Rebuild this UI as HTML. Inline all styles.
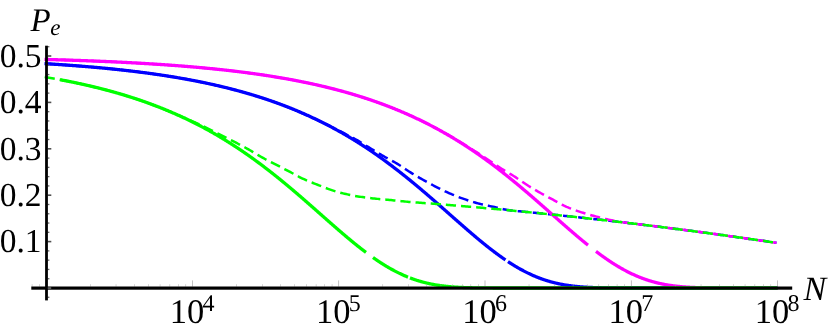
<!DOCTYPE html>
<html><head><meta charset="utf-8"><style>
html,body{margin:0;padding:0;background:#fff;}
svg{display:block;will-change:transform;text-rendering:geometricPrecision;font-family:"Liberation Serif",serif;}
</style></head><body>
<svg width="830" height="332" viewBox="0 0 830 332">
<rect width="830" height="332" fill="#fff"/>
<g stroke-linecap="butt" stroke-linejoin="round">
<path d="M44.50,63.62 L45.00,63.65 L45.50,63.68 L46.00,63.71 L46.50,63.74 L47.00,63.77 L47.50,63.80 L48.00,63.83 L48.50,63.86 L49.00,63.89 L49.50,63.92 L50.00,63.95 L50.50,63.99 L51.00,64.02 L51.50,64.05 L52.00,64.08 L52.50,64.11 L53.00,64.14 L53.50,64.18 L54.00,64.21 L54.50,64.24 L55.00,64.27 L55.50,64.31 L56.00,64.34 L56.50,64.37 L57.00,64.41 L57.50,64.44 L58.00,64.47 L58.50,64.50 L59.00,64.54 L59.50,64.57 L60.00,64.61 L60.50,64.64 L61.00,64.67 L61.50,64.71 L62.00,64.74 L62.50,64.78 L63.00,64.81 L63.50,64.85 L64.00,64.88 L64.50,64.92 L65.00,64.95 L65.50,64.99 L66.00,65.02 L66.50,65.06 L67.00,65.09 L67.50,65.13 L68.00,65.16 L68.50,65.20 L69.00,65.24 L69.50,65.27 L70.00,65.31 L70.50,65.35 L71.00,65.38 L71.50,65.42 L72.00,65.46 L72.50,65.50 L73.00,65.53 L73.50,65.57 L74.00,65.61 L74.50,65.65 L75.00,65.68 L75.50,65.72 L76.00,65.76 L76.50,65.80 L77.00,65.84 L77.50,65.88 L78.00,65.91 L78.50,65.95 L79.00,65.99 L79.50,66.03 L80.00,66.07 L80.50,66.11 L81.00,66.15 L81.50,66.19 L82.00,66.23 L82.50,66.27 L83.00,66.31 L83.50,66.35 L84.00,66.39 L84.50,66.43 L85.00,66.48 L85.50,66.52 L86.00,66.56 L86.50,66.60 L87.00,66.64 L87.50,66.68 L88.00,66.73 L88.50,66.77 L89.00,66.81 L89.50,66.85 L90.00,66.90 L90.50,66.94 L91.00,66.98 L91.50,67.03 L92.00,67.07 L92.50,67.11 L93.00,67.16 L93.50,67.20 L94.00,67.24 L94.50,67.29 L95.00,67.33 L95.50,67.38 L96.00,67.42 L96.50,67.47 L97.00,67.51 L97.50,67.56 L98.00,67.60 L98.50,67.65 L99.00,67.69 L99.50,67.74 L100.00,67.79 L100.50,67.83 L101.00,67.88 L101.50,67.93 L102.00,67.97 L102.50,68.02 L103.00,68.07 L103.50,68.12 L104.00,68.16 L104.50,68.21 L105.00,68.26 L105.50,68.31 L106.00,68.36 L106.50,68.41 L107.00,68.45 L107.50,68.50 L108.00,68.55 L108.50,68.60 L109.00,68.65 L109.50,68.70 L110.00,68.75 L110.50,68.80 L111.00,68.85 L111.50,68.90 L112.00,68.95 L112.50,69.00 L113.00,69.06 L113.50,69.11 L114.00,69.16 L114.50,69.21 L115.00,69.26 L115.50,69.31 L116.00,69.37 L116.50,69.42 L117.00,69.47 L117.50,69.53 L118.00,69.58 L118.50,69.63 L119.00,69.69 L119.50,69.74 L120.00,69.79 L120.50,69.85 L121.00,69.90 L121.50,69.96 L122.00,70.01 L122.50,70.07 L123.00,70.12 L123.50,70.18 L124.00,70.23 L124.50,70.29 L125.00,70.35 L125.50,70.40 L126.00,70.46 L126.50,70.52 L127.00,70.57 L127.50,70.63 L128.00,70.69 L128.50,70.75 L129.00,70.80 L129.50,70.86 L130.00,70.92 L130.50,70.98 L131.00,71.04 L131.50,71.10 L132.00,71.16 L132.50,71.22 L133.00,71.28 L133.50,71.34 L134.00,71.40 L134.50,71.46 L135.00,71.52 L135.50,71.58 L136.00,71.64 L136.50,71.70 L137.00,71.76 L137.50,71.83 L138.00,71.89 L138.50,71.95 L139.00,72.01 L139.50,72.08 L140.00,72.14 L140.50,72.20 L141.00,72.27 L141.50,72.33 L142.00,72.40 L142.50,72.46 L143.00,72.52 L143.50,72.59 L144.00,72.65 L144.50,72.72 L145.00,72.79 L145.50,72.85 L146.00,72.92 L146.50,72.99 L147.00,73.05 L147.50,73.12 L148.00,73.19 L148.50,73.25 L149.00,73.32 L149.50,73.39 L150.00,73.46 L150.50,73.53 L151.00,73.60 L151.50,73.66 L152.00,73.73 L152.50,73.80 L153.00,73.87 L153.50,73.94 L154.00,74.01 L154.50,74.09 L155.00,74.16 L155.50,74.23 L156.00,74.30 L156.50,74.37 L157.00,74.44 L157.50,74.52 L158.00,74.59 L158.50,74.66 L159.00,74.74 L159.50,74.81 L160.00,74.88 L160.50,74.96 L161.00,75.03 L161.50,75.11 L162.00,75.18 L162.50,75.26 L163.00,75.33 L163.50,75.41 L164.00,75.49 L164.50,75.56 L165.00,75.64 L165.50,75.72 L166.00,75.79 L166.50,75.87 L167.00,75.95 L167.50,76.03 L168.00,76.11 L168.50,76.19 L169.00,76.26 L169.50,76.34 L170.00,76.42 L170.50,76.50 L171.00,76.58 L171.50,76.67 L172.00,76.75 L172.50,76.83 L173.00,76.91 L173.50,76.99 L174.00,77.07 L174.50,77.16 L175.00,77.24 L175.50,77.32 L176.00,77.41 L176.50,77.49 L177.00,77.58 L177.50,77.66 L178.00,77.75 L178.50,77.83 L179.00,77.92 L179.50,78.00 L180.00,78.09 L180.50,78.18 L181.00,78.26 L181.50,78.35 L182.00,78.44 L182.50,78.53 L183.00,78.61 L183.50,78.70 L184.00,78.79 L184.50,78.88 L185.00,78.97 L185.50,79.06 L186.00,79.15 L186.50,79.24 L187.00,79.33 L187.50,79.43 L188.00,79.52 L188.50,79.61 L189.00,79.70 L189.50,79.80 L190.00,79.89 L190.50,79.98 L191.00,80.08 L191.50,80.17 L192.00,80.27 L192.50,80.36 L193.00,80.46 L193.50,80.55 L194.00,80.65 L194.50,80.74 L195.00,80.84 L195.50,80.94 L196.00,81.04 L196.50,81.13 L197.00,81.23 L197.50,81.33 L198.00,81.43 L198.50,81.53 L199.00,81.63 L199.50,81.73 L200.00,81.83 L200.50,81.93 L201.00,82.04 L201.50,82.14 L202.00,82.24 L202.50,82.34 L203.00,82.45 L203.50,82.55 L204.00,82.65 L204.50,82.76 L205.00,82.86 L205.50,82.97 L206.00,83.07 L206.50,83.18 L207.00,83.29 L207.50,83.39 L208.00,83.50 L208.50,83.61 L209.00,83.72 L209.50,83.82 L210.00,83.93 L210.50,84.04 L211.00,84.15 L211.50,84.26 L212.00,84.37 L212.50,84.48 L213.00,84.60 L213.50,84.71 L214.00,84.82 L214.50,84.93 L215.00,85.05 L215.50,85.16 L216.00,85.27 L216.50,85.39 L217.00,85.50 L217.50,85.62 L218.00,85.73 L218.50,85.85 L219.00,85.97 L219.50,86.08 L220.00,86.20 L220.50,86.32 L221.00,86.44 L221.50,86.56 L222.00,86.68 L222.50,86.80 L223.00,86.92 L223.50,87.04 L224.00,87.16 L224.50,87.28 L225.00,87.40 L225.50,87.52 L226.00,87.65 L226.50,87.77 L227.00,87.90 L227.50,88.02 L228.00,88.14 L228.50,88.27 L229.00,88.40 L229.50,88.52 L230.00,88.65 L230.50,88.78 L231.00,88.90 L231.50,89.03 L232.00,89.16 L232.50,89.29 L233.00,89.42 L233.50,89.55 L234.00,89.68 L234.50,89.81 L235.00,89.95 L235.50,90.08 L236.00,90.21 L236.50,90.34 L237.00,90.48 L237.50,90.61 L238.00,90.75 L238.50,90.88 L239.00,91.02 L239.50,91.16 L240.00,91.29 L240.50,91.43 L241.00,91.57 L241.50,91.71 L242.00,91.85 L242.50,91.98 L243.00,92.13 L243.50,92.27 L244.00,92.41 L244.50,92.55 L245.00,92.69 L245.50,92.83 L246.00,92.98 L246.50,93.12 L247.00,93.27 L247.50,93.41 L248.00,93.56 L248.50,93.70 L249.00,93.85 L249.50,94.00 L250.00,94.14 L250.50,94.29 L251.00,94.44 L251.50,94.59 L252.00,94.74 L252.50,94.89 L253.00,95.04 L253.50,95.19 L254.00,95.35 L254.50,95.50 L255.00,95.65 L255.50,95.81 L256.00,95.96 L256.50,96.11 L257.00,96.27 L257.50,96.43 L258.00,96.58 L258.50,96.74 L259.00,96.90 L259.50,97.06 L260.00,97.22 L260.50,97.38 L261.00,97.54 L261.50,97.70 L262.00,97.86 L262.50,98.02 L263.00,98.18 L263.50,98.35 L264.00,98.51 L264.50,98.68 L265.00,98.84 L265.50,99.01 L266.00,99.17 L266.50,99.34 L267.00,99.51 L267.50,99.68 L268.00,99.85 L268.50,100.02 L269.00,100.19 L269.50,100.36 L270.00,100.53 L270.50,100.70 L271.00,100.87 L271.50,101.05 L272.00,101.22 L272.50,101.40 L273.00,101.57 L273.50,101.75 L274.00,101.92 L274.50,102.10 L275.00,102.28 L275.50,102.46 L276.00,102.64 L276.50,102.82 L277.00,103.00 L277.50,103.18 L278.00,103.36 L278.50,103.54 L279.00,103.73 L279.50,103.91 L280.00,104.10 L280.50,104.28 L281.00,104.47 L281.50,104.65 L282.00,104.84 L282.50,105.03 L283.00,105.22 L283.50,105.41 L284.00,105.60 L284.50,105.79 L285.00,105.98 L285.50,106.17 L286.00,106.37 L286.50,106.56 L287.00,106.75 L287.50,106.95 L288.00,107.14 L288.50,107.34 L289.00,107.54 L289.50,107.74 L290.00,107.93 L290.50,108.13 L291.00,108.33 L291.50,108.53 L292.00,108.74 L292.50,108.94 L293.00,109.14 L293.50,109.35 L294.00,109.55 L294.50,109.75 L295.00,109.96 L295.50,110.17 L296.00,110.37 L296.50,110.58 L297.00,110.79 L297.50,111.00 L298.00,111.21 L298.50,111.42 L299.00,111.63 L299.50,111.85 L300.00,112.06 L300.50,112.27 L301.00,112.49 L301.50,112.71 L302.00,112.92 L302.50,113.14 L303.00,113.36 L303.50,113.58 L304.00,113.80 L304.50,114.02 L305.00,114.24 L305.50,114.46 L306.00,114.68 L306.50,114.90 L307.00,115.13 L307.50,115.35 L308.00,115.58 L308.50,115.81 L309.00,116.03 L309.50,116.26 L310.00,116.49 L310.50,116.72 L311.00,116.95 L311.50,117.18 L312.00,117.42 L312.50,117.65 L313.00,117.88 L313.50,118.12 L314.00,118.35 L314.50,118.59 L315.00,118.83 L315.50,119.06 L316.00,119.30 L316.50,119.54 L317.00,119.78 L317.50,120.02 L318.00,120.27 L318.50,120.51 L319.00,120.75 L319.50,121.00 L320.00,121.24 L320.50,121.49 L321.00,121.74 L321.50,121.98 L322.00,122.23 L322.50,122.48 L323.00,122.73 L323.50,122.99 L324.00,123.24 L324.50,123.49 L325.00,123.74 L325.50,124.00 L326.00,124.26 L326.50,124.51 L327.00,124.77 L327.50,125.03 L328.00,125.29 L328.50,125.55 L329.00,125.81 L329.50,126.07 L330.00,126.33 L330.50,126.60 L331.00,126.86 L331.50,127.13 L332.00,127.39 L332.50,127.66 L333.00,127.93 L333.50,128.20 L334.00,128.47 L334.50,128.74 L335.00,129.01 L335.50,129.28 L336.00,129.55 L336.50,129.83 L337.00,130.10 L337.50,130.38 L338.00,130.66 L338.50,130.93 L339.00,131.21 L339.50,131.49 L340.00,131.77 L340.50,132.05 L341.00,132.34 L341.50,132.62 L342.00,132.90 L342.50,133.19 L343.00,133.47 L343.50,133.76 L344.00,134.05 L344.50,134.34 L345.00,134.63 L345.50,134.92 L346.00,135.21 L346.50,135.50 L347.00,135.80 L347.50,136.09 L348.00,136.39 L348.50,136.68 L349.00,136.98 L349.50,137.28 L350.00,137.58 L350.50,137.88 L351.00,138.18 L351.50,138.48 L352.00,138.78 L352.50,139.08 L353.00,139.39 L353.50,139.69 L354.00,140.00 L354.50,140.31 L355.00,140.62 L355.50,140.93 L356.00,141.24 L356.50,141.55 L357.00,141.86 L357.50,142.17 L358.00,142.49 L358.50,142.80 L359.00,143.12 L359.50,143.43 L360.00,143.75 L360.50,144.07 L361.00,144.39 L361.50,144.71 L362.00,145.03 L362.50,145.36 L363.00,145.68 L363.50,146.00 L364.00,146.33 L364.50,146.66 L365.00,146.98 L365.50,147.31 L366.00,147.64 L366.50,147.97 L367.00,148.30 L367.50,148.63 L368.00,148.97 L368.50,149.30 L369.00,149.64 L369.50,149.97 L370.00,150.31 L370.50,150.65 L371.00,150.98 L371.50,151.32 L372.00,151.66 L372.50,152.01 L373.00,152.35 L373.50,152.69 L374.00,153.04 L374.50,153.38 L375.00,153.73 L375.50,154.07 L376.00,154.42 L376.50,154.77 L377.00,155.12 L377.50,155.47 L378.00,155.83 L378.50,156.18 L379.00,156.53 L379.50,156.89 L380.00,157.24 L380.50,157.60 L381.00,157.96 L381.50,158.31 L382.00,158.67 L382.50,159.03 L383.00,159.40 L383.50,159.76 L384.00,160.12 L384.50,160.49 L385.00,160.85 L385.50,161.22 L386.00,161.58 L386.50,161.95 L387.00,162.32 L387.50,162.69 L388.00,163.06 L388.50,163.43 L389.00,163.80 L389.50,164.18 L390.00,164.55 L390.50,164.92 L391.00,165.30 L391.50,165.68 L392.00,166.05 L392.50,166.43 L393.00,166.81 L393.50,167.19 L394.00,167.57 L394.50,167.96 L395.00,168.34 L395.50,168.72 L396.00,169.11 L396.50,169.49 L397.00,169.88 L397.50,170.27 L398.00,170.65 L398.50,171.04 L399.00,171.43 L399.50,171.82 L400.00,172.22 L400.50,172.61 L401.00,173.00 L401.50,173.40 L402.00,173.79 L402.50,174.19 L403.00,174.58 L403.50,174.98 L404.00,175.38 L404.50,175.78 L405.00,176.18 L405.50,176.58 L406.00,176.98 L406.50,177.38 L407.00,177.78 L407.50,178.19 L408.00,178.59 L408.50,179.00 L409.00,179.40 L409.50,179.81 L410.00,180.22 L410.50,180.62 L411.00,181.03 L411.50,181.44 L412.00,181.85 L412.50,182.26 L413.00,182.68 L413.50,183.09 L414.00,183.50 L414.50,183.92 L415.00,184.33 L415.50,184.75 L416.00,185.16 L416.50,185.58 L417.00,186.00 L417.50,186.41 L418.00,186.83 L418.50,187.25 L419.00,187.67 L419.50,188.09 L420.00,188.51 L420.50,188.94 L421.00,189.36 L421.50,189.78 L422.00,190.20 L422.50,190.63 L423.00,191.05 L423.50,191.48 L424.00,191.91 L424.50,192.33 L425.00,192.76 L425.50,193.19 L426.00,193.61 L426.50,194.04 L427.00,194.47 L427.50,194.90 L428.00,195.33 L428.50,195.76 L429.00,196.19 L429.50,196.63 L430.00,197.06 L430.50,197.49 L431.00,197.92 L431.50,198.36 L432.00,198.79 L432.50,199.23 L433.00,199.66 L433.50,200.10 L434.00,200.53 L434.50,200.97 L435.00,201.40 L435.50,201.84 L436.00,202.28 L436.50,202.71 L437.00,203.15 L437.50,203.59 L438.00,204.03 L438.50,204.47 L439.00,204.91 L439.50,205.34 L440.00,205.78 L440.50,206.22 L441.00,206.66 L441.50,207.10 L442.00,207.54 L442.50,207.98 L443.00,208.42 L443.50,208.87 L444.00,209.31 L444.50,209.75 L445.00,210.19 L445.50,210.63 L446.00,211.07 L446.50,211.51 L447.00,211.95 L447.50,212.40 L448.00,212.84 L448.50,213.28 L449.00,213.72 L449.50,214.16 L450.00,214.61 L450.50,215.05 L451.00,215.49 L451.50,215.93 L452.00,216.37 L452.50,216.81 L453.00,217.26 L453.50,217.70 L454.00,218.14 L454.50,218.58 L455.00,219.02 L455.50,219.46 L456.00,219.90 L456.50,220.34 L457.00,220.79 L457.50,221.23 L458.00,221.67 L458.50,222.11 L459.00,222.55 L459.50,222.98 L460.00,223.42 L460.50,223.86 L461.00,224.30 L461.50,224.74 L462.00,225.18 L462.50,225.61 L463.00,226.05 L463.50,226.49 L464.00,226.92 L464.50,227.36 L465.00,227.79 L465.50,228.23 L466.00,228.66 L466.50,229.10 L467.00,229.53 L467.50,229.96 L468.00,230.40 L468.50,230.83 L469.00,231.26 L469.50,231.69 L470.00,232.12 L470.50,232.55 L471.00,232.98 L471.50,233.40 L472.00,233.83 L472.50,234.26 L473.00,234.68 L473.50,235.11 L474.00,235.53 L474.50,235.96 L475.00,236.38 L475.50,236.80 L476.00,237.22 L476.50,237.64 L477.00,238.06 L477.50,238.48 L478.00,238.90 L478.50,239.32 L479.00,239.73 L479.50,240.15 L480.00,240.56 L480.50,240.97 L481.00,241.38 L481.50,241.80 L482.00,242.21 L482.50,242.61 L483.00,243.02 L483.50,243.43 L484.00,243.83 L484.50,244.24 L485.00,244.64 L485.50,245.04 L486.00,245.44 L486.50,245.84 L487.00,246.24 L487.50,246.64 L488.00,247.03 L488.50,247.43 L489.00,247.82 L489.50,248.21 L490.00,248.60 L490.50,248.99 L491.00,249.38 L491.50,249.77 L492.00,250.15 L492.50,250.54 L493.00,250.92 L493.50,251.30 L494.00,251.68 L494.50,252.05 L495.00,252.43 L495.50,252.81 L496.00,253.18 L496.50,253.55 L497.00,253.92 L497.50,254.29 L498.00,254.65 L498.50,255.02 L499.00,255.38 L499.50,255.74 L500.00,256.10 L500.50,256.46 L501.00,256.82 L501.50,257.17 L502.00,257.53 L502.50,257.88 L503.00,258.23 L503.50,258.58 L504.00,258.92 L504.50,259.27 L505.00,259.61 L505.50,259.95" fill="none" stroke="#0000ff" stroke-width="3.3"/>
<path d="M508.00,261.62 L508.50,261.95 L509.00,262.28 L509.50,262.60 L510.00,262.93 L510.50,263.25 L511.00,263.57 L511.50,263.88 L512.00,264.20 L512.50,264.51 L513.00,264.82 L513.50,265.13 L514.00,265.44 L514.50,265.74 L515.00,266.04 L515.50,266.34 L516.00,266.64 L516.50,266.94 L517.00,267.23 L517.50,267.52 L518.00,267.81 L518.50,268.10 L519.00,268.38 L519.50,268.67 L520.00,268.95 L520.50,269.23 L521.00,269.50 L521.50,269.78 L522.00,270.05 L522.50,270.32 L523.00,270.58 L523.50,270.85 L524.00,271.11 L524.50,271.37 L525.00,271.63 L525.50,271.89 L526.00,272.14 L526.50,272.39 L527.00,272.64 L527.50,272.89 L528.00,273.13 L528.50,273.37 L529.00,273.61 L529.50,273.85 L530.00,274.08 L530.50,274.32 L531.00,274.55 L531.50,274.77 L532.00,275.00 L532.50,275.22 L533.00,275.44 L533.50,275.66 L534.00,275.88 L534.50,276.09 L535.00,276.30 L535.50,276.51 L536.00,276.72 L536.50,276.92 L537.00,277.13 L537.50,277.33 L538.00,277.52 L538.50,277.72 L539.00,277.91 L539.50,278.10 L540.00,278.29 L540.50,278.47 L541.00,278.66 L541.50,278.84 L542.00,279.02 L542.50,279.20 L543.00,279.37 L543.50,279.54 L544.00,279.71 L544.50,279.88 L545.00,280.04 L545.50,280.21 L546.00,280.37 L546.50,280.53 L547.00,280.68 L547.50,280.84 L548.00,280.99 L548.50,281.14 L549.00,281.29 L549.50,281.43 L550.00,281.58 L550.50,281.72 L551.00,281.86 L551.50,281.99 L552.00,282.13 L552.50,282.26 L553.00,282.39 L553.50,282.52 L554.00,282.64 L554.50,282.77 L555.00,282.89 L555.50,283.01 L556.00,283.13 L556.50,283.25 L557.00,283.36 L557.50,283.47 L558.00,283.58 L558.50,283.69 L559.00,283.80 L559.50,283.90 L560.00,284.00 L560.50,284.11 L561.00,284.20 L561.50,284.30 L562.00,284.40 L562.50,284.49 L563.00,284.58 L563.50,284.67 L564.00,284.76 L564.50,284.85 L565.00,284.93 L565.50,285.01 L566.00,285.10 L566.50,285.17 L567.00,285.25 L567.50,285.33 L568.00,285.40 L568.50,285.48 L569.00,285.55 L569.50,285.62 L570.00,285.69 L570.50,285.75 L571.00,285.82 L571.50,285.88 L572.00,285.95 L572.50,286.01 L573.00,286.07 L573.50,286.13 L574.00,286.18 L574.50,286.24 L575.00,286.29 L575.50,286.35 L576.00,286.40 L576.50,286.45 L577.00,286.50 L577.50,286.55 L578.00,286.59 L578.50,286.64 L579.00,286.68 L579.50,286.73 L580.00,286.77 L580.50,286.81 L581.00,286.85 L581.50,286.89 L582.00,286.93 L582.50,286.96 L583.00,287.00 L583.50,287.04 L584.00,287.07 L584.50,287.10 L585.00,287.13 L585.50,287.17 L586.00,287.20 L586.50,287.22 L587.00,287.25 L587.50,287.28 L588.00,287.31 L588.50,287.33 L589.00,287.36 L589.50,287.38 L590.00,287.41 L590.50,287.43 L591.00,287.45 L591.50,287.47 L592.00,287.49 L592.50,287.51 L593.00,287.53 L593.50,287.55 L594.00,287.57 L594.50,287.59 L595.00,287.60 L595.50,287.62 L596.00,287.64 L596.50,287.65 L597.00,287.67 L597.50,287.68 L598.00,287.69 L598.50,287.71 L599.00,287.72 L599.50,287.73 L600.00,287.74 L600.50,287.76 L601.00,287.77 L601.50,287.78 L602.00,287.79 L602.50,287.80 L603.00,287.81 L603.50,287.82 L604.00,287.82 L604.50,287.83 L605.00,287.84 L605.50,287.85 L606.00,287.86 L606.50,287.86 L607.00,287.87 L607.50,287.88 L608.00,287.88 L608.50,287.89 L609.00,287.89 L609.50,287.90 L610.00,287.90 L610.50,287.91 L611.00,287.91 L611.50,287.92 L612.00,287.92 L612.50,287.93 L613.00,287.93 L613.50,287.93 L614.00,287.94 L614.50,287.94 L615.00,287.94 L615.50,287.95 L616.00,287.95 L616.50,287.95 L617.00,287.96 L617.50,287.96 L618.00,287.96 L618.50,287.96 L619.00,287.97 L619.50,287.97 L620.00,287.97 L620.50,287.97 L621.00,287.97 L621.50,287.97 L622.00,287.98 L622.50,287.98 L623.00,287.98 L623.50,287.98 L624.00,287.98 L624.50,287.98 L625.00,287.98 L625.50,287.98 L626.00,287.99 L626.50,287.99 L627.00,287.99 L627.50,287.99 L628.00,287.99 L628.50,287.99 L629.00,287.99 L629.50,287.99 L630.00,287.99 L630.50,287.99 L631.00,287.99 L631.50,287.99 L632.00,287.99 L632.50,287.99 L633.00,287.99 L633.50,288.00 L634.00,288.00 L634.50,288.00 L635.00,288.00 L635.50,288.00 L636.00,288.00 L636.50,288.00 L637.00,288.00 L637.50,288.00 L638.00,288.00 L638.50,288.00 L639.00,288.00 L639.50,288.00 L640.00,288.00 L640.50,288.00 L641.00,288.00 L641.50,288.00 L642.00,288.00 L642.50,288.00 L643.00,288.00 L643.50,288.00 L644.00,288.00 L644.50,288.00 L645.00,288.00 L645.50,288.00 L646.00,288.00 L646.50,288.00 L647.00,288.00 L647.50,288.00 L648.00,288.00 L648.50,288.00 L649.00,288.00 L649.50,288.00 L650.00,288.00 L650.50,288.00 L651.00,288.00 L651.50,288.00 L652.00,288.00 L652.50,288.00 L653.00,288.00 L653.50,288.00 L654.00,288.00 L654.50,288.00 L655.00,288.00 L655.50,288.00 L656.00,288.00 L656.50,288.00 L657.00,288.00 L657.50,288.00 L658.00,288.00 L658.50,288.00 L659.00,288.00 L659.50,288.00 L660.00,288.00 L660.50,288.00 L661.00,288.00 L661.50,288.00 L662.00,288.00 L662.50,288.00 L663.00,288.00 L663.50,288.00 L664.00,288.00 L664.50,288.00 L665.00,288.00 L665.50,288.00 L666.00,288.00 L666.50,288.00 L667.00,288.00 L667.50,288.00 L668.00,288.00 L668.50,288.00 L669.00,288.00 L669.50,288.00 L670.00,288.00 L670.50,288.00 L671.00,288.00 L671.50,288.00 L672.00,288.00 L672.50,288.00 L673.00,288.00 L673.50,288.00 L674.00,288.00 L674.50,288.00 L675.00,288.00 L675.50,288.00 L676.00,288.00 L676.50,288.00 L677.00,288.00 L677.50,288.00 L678.00,288.00 L678.50,288.00 L679.00,288.00 L679.50,288.00 L680.00,288.00 L680.50,288.00 L681.00,288.00 L681.50,288.00 L682.00,288.00 L682.50,288.00 L683.00,288.00 L683.50,288.00 L684.00,288.00 L684.50,288.00 L685.00,288.00 L685.50,288.00 L686.00,288.00 L686.50,288.00 L687.00,288.00 L687.50,288.00 L688.00,288.00 L688.50,288.00 L689.00,288.00 L689.50,288.00 L690.00,288.00 L690.50,288.00 L691.00,288.00 L691.50,288.00 L692.00,288.00 L692.50,288.00 L693.00,288.00 L693.50,288.00 L694.00,288.00 L694.50,288.00 L695.00,288.00 L695.50,288.00 L696.00,288.00 L696.50,288.00 L697.00,288.00 L697.50,288.00 L698.00,288.00 L698.50,288.00 L699.00,288.00 L699.50,288.00 L700.00,288.00 L700.50,288.00 L701.00,288.00 L701.50,288.00 L702.00,288.00 L702.50,288.00 L703.00,288.00 L703.50,288.00 L704.00,288.00 L704.50,288.00 L705.00,288.00 L705.50,288.00 L706.00,288.00 L706.50,288.00 L707.00,288.00 L707.50,288.00 L708.00,288.00 L708.50,288.00 L709.00,288.00 L709.50,288.00 L710.00,288.00 L710.50,288.00 L711.00,288.00 L711.50,288.00 L712.00,288.00 L712.50,288.00 L713.00,288.00 L713.50,288.00 L714.00,288.00 L714.50,288.00 L715.00,288.00 L715.50,288.00 L716.00,288.00 L716.50,288.00 L717.00,288.00 L717.50,288.00 L718.00,288.00 L718.50,288.00 L719.00,288.00 L719.50,288.00 L720.00,288.00 L720.50,288.00 L721.00,288.00 L721.50,288.00 L722.00,288.00 L722.50,288.00 L723.00,288.00 L723.50,288.00 L724.00,288.00 L724.50,288.00 L725.00,288.00 L725.50,288.00 L726.00,288.00 L726.50,288.00 L727.00,288.00 L727.50,288.00 L728.00,288.00 L728.50,288.00 L729.00,288.00 L729.50,288.00 L730.00,288.00 L730.50,288.00 L731.00,288.00 L731.50,288.00 L732.00,288.00 L732.50,288.00 L733.00,288.00 L733.50,288.00 L734.00,288.00 L734.50,288.00 L735.00,288.00 L735.50,288.00 L736.00,288.00 L736.50,288.00 L737.00,288.00 L737.50,288.00 L738.00,288.00 L738.50,288.00 L739.00,288.00 L739.50,288.00 L740.00,288.00 L740.50,288.00 L741.00,288.00 L741.50,288.00 L742.00,288.00 L742.50,288.00 L743.00,288.00 L743.50,288.00 L744.00,288.00 L744.50,288.00 L745.00,288.00 L745.50,288.00 L746.00,288.00 L746.50,288.00 L747.00,288.00 L747.50,288.00 L748.00,288.00 L748.50,288.00 L749.00,288.00 L749.50,288.00 L750.00,288.00 L750.50,288.00 L751.00,288.00 L751.50,288.00 L752.00,288.00 L752.50,288.00 L753.00,288.00 L753.50,288.00 L754.00,288.00 L754.50,288.00 L755.00,288.00 L755.50,288.00 L756.00,288.00 L756.50,288.00 L757.00,288.00 L757.50,288.00 L758.00,288.00 L758.50,288.00 L759.00,288.00 L759.50,288.00 L760.00,288.00 L760.50,288.00 L761.00,288.00 L761.50,288.00 L762.00,288.00 L762.50,288.00 L763.00,288.00 L763.50,288.00 L764.00,288.00 L764.50,288.00 L765.00,288.00 L765.50,288.00 L766.00,288.00 L766.50,288.00 L767.00,288.00 L767.50,288.00 L768.00,288.00 L768.50,288.00 L769.00,288.00 L769.50,288.00 L770.00,288.00 L770.50,288.00 L771.00,288.00 L771.50,288.00 L772.00,288.00 L772.50,288.00 L773.00,288.00 L773.50,288.00 L774.00,288.00 L774.50,288.00 L775.00,288.00 L775.50,288.00 L776.00,288.00 L776.50,288.00 L777.00,288.00 L777.50,288.00" fill="none" stroke="#0000ff" stroke-width="3.3"/>
<path d="M44.50,63.62 L46.00,63.71 L47.50,63.80 L49.00,63.90 L50.50,63.99 L52.00,64.08 L53.50,64.18 L55.00,64.27 L56.50,64.37 L58.00,64.47 L59.50,64.57 L61.00,64.67 L62.50,64.78 L64.00,64.88 L65.50,64.99 L67.00,65.09 L68.50,65.20 L70.00,65.31 L71.50,65.42 L73.00,65.53 L74.50,65.65 L76.00,65.76 L77.50,65.88 L79.00,65.99 L80.50,66.11 L82.00,66.23 L83.50,66.35 L85.00,66.48 L86.50,66.60 L88.00,66.73 L89.50,66.85 L91.00,66.98 L92.50,67.11 L94.00,67.24 L95.50,67.38 L97.00,67.51 L98.50,67.65 L100.00,67.79 L101.50,67.93 L103.00,68.07 L104.50,68.21 L106.00,68.36 L107.50,68.50 L109.00,68.65 L110.50,68.80 L112.00,68.95 L113.50,69.11 L115.00,69.26 L116.50,69.42 L118.00,69.58 L119.50,69.74 L121.00,69.90 L122.50,70.07 L124.00,70.23 L125.50,70.40 L127.00,70.57 L128.50,70.75 L130.00,70.92 L131.50,71.10 L133.00,71.28 L134.50,71.46 L136.00,71.64 L137.50,71.83 L139.00,72.01 L140.50,72.20 L142.00,72.40 L143.50,72.59 L145.00,72.79 L146.50,72.99 L148.00,73.19 L149.50,73.39 L151.00,73.60 L152.50,73.80 L154.00,74.01 L155.50,74.23 L157.00,74.44 L158.50,74.66 L160.00,74.88 L161.50,75.11 L163.00,75.33 L164.50,75.56 L166.00,75.79 L167.50,76.03 L169.00,76.26 L170.50,76.50 L172.00,76.75 L173.50,76.99 L175.00,77.24 L176.50,77.49 L178.00,77.75 L179.50,78.00 L181.00,78.26 L182.50,78.53 L184.00,78.79 L185.50,79.06 L187.00,79.33 L188.50,79.61 L190.00,79.89 L191.50,80.17 L193.00,80.46 L194.50,80.74 L196.00,81.04 L197.50,81.33 L199.00,81.63 L200.50,81.93 L202.00,82.24 L203.50,82.55 L205.00,82.86 L206.50,83.18 L208.00,83.50 L209.50,83.82 L211.00,84.15 L212.50,84.48 L214.00,84.82 L215.50,85.16 L217.00,85.50 L218.50,85.85 L220.00,86.20 L221.50,86.56 L223.00,86.92 L224.50,87.28 L226.00,87.65 L227.50,88.02 L229.00,88.40 L230.50,88.78 L232.00,89.16 L233.50,89.55 L235.00,89.95 L236.50,90.34 L238.00,90.75 L239.50,91.16 L241.00,91.57 L242.50,91.99 L244.00,92.41 L245.50,92.83 L247.00,93.27 L248.50,93.70 L250.00,94.14 L251.50,94.59 L253.00,95.04 L254.50,95.50 L256.00,95.96 L257.50,96.43 L259.00,96.90 L260.50,97.38 L262.00,97.86 L263.50,98.35 L265.00,98.84 L266.50,99.34 L268.00,99.85 L269.50,100.36 L271.00,100.87 L272.50,101.40 L274.00,101.92 L275.50,102.46 L277.00,102.99 L278.50,103.53 L280.00,104.08 L281.50,104.64 L283.00,105.21 L284.50,105.79 L286.00,106.38 L287.50,106.99 L289.00,107.60 L290.50,108.21 L292.00,108.83 L293.50,109.46 L295.00,110.09 L296.50,110.73 L298.00,111.38 L299.50,112.03 L301.00,112.68 L302.50,113.34 L304.00,114.01 L305.50,114.68 L307.00,115.35 L308.50,116.03 L310.00,116.71 L311.50,117.40 L313.00,118.08 L314.50,118.77 L316.00,119.47 L317.50,120.17 L319.00,120.87 L320.50,121.57 L322.00,122.27 L323.50,122.98 L325.00,123.69 L326.50,124.42 L328.00,125.15 L329.50,125.89 L331.00,126.64 L332.50,127.39 L334.00,128.15 L335.50,128.91 L337.00,129.67 L338.50,130.43 L340.00,131.20 L341.50,131.96 L343.00,132.73 L344.50,133.49 L346.00,134.26 L347.50,135.02 L349.00,135.80 L350.50,136.58 L352.00,137.37 L353.50,138.18 L355.00,138.99 L356.50,139.82 L358.00,140.67 L359.50,141.55 L361.00,142.45 L362.50,143.37 L364.00,144.31 L365.50,145.25 L367.00,146.19 L368.50,147.13 L370.00,148.06 L371.50,148.97 L373.00,149.89 L374.50,150.80 L376.00,151.72 L377.50,152.63 L379.00,153.54 L380.50,154.43 L382.00,155.32 L383.50,156.19 L385.00,157.03 L386.50,157.85 L388.00,158.66 L389.50,159.45 L391.00,160.24 L392.50,161.05 L394.00,161.88 L395.50,162.73 L397.00,163.62 L398.50,164.56 L400.00,165.53 L401.50,166.53 L403.00,167.54 L404.50,168.56 L406.00,169.56 L407.50,170.55 L409.00,171.50 L410.50,172.43 L412.00,173.35 L413.50,174.26 L415.00,175.16 L416.50,176.05 L418.00,176.93 L419.50,177.80 L421.00,178.66 L422.50,179.51 L424.00,180.36 L425.50,181.19 L427.00,182.02 L428.50,182.84 L430.00,183.65 L431.50,184.46 L433.00,185.25 L434.50,186.03 L436.00,186.80 L437.50,187.56 L439.00,188.32 L440.50,189.07 L442.00,189.81 L443.50,190.54 L445.00,191.26 L446.50,191.96 L448.00,192.64 L449.50,193.30 L451.00,193.94 L452.50,194.58 L454.00,195.20 L455.50,195.81 L457.00,196.40 L458.50,196.98 L460.00,197.55 L461.50,198.11 L463.00,198.65 L464.50,199.17 L466.00,199.69 L467.50,200.20 L469.00,200.70 L470.50,201.19 L472.00,201.67 L473.50,202.13 L475.00,202.57 L476.50,203.00 L478.00,203.40 L479.50,203.78 L481.00,204.15 L482.50,204.50 L484.00,204.83 L485.50,205.16 L487.00,205.48 L488.50,205.79 L490.00,206.11 L491.50,206.43 L493.00,206.76 L494.50,207.09 L496.00,207.45 L497.50,207.81 L499.00,208.17 L500.50,208.53 L502.00,208.88 L503.50,209.21 L505.00,209.52 L506.50,209.80 L508.00,210.04 L509.50,210.25 L511.00,210.44 L512.50,210.61 L514.00,210.77 L515.50,210.92 L517.00,211.07 L518.50,211.20 L520.00,211.34 L521.50,211.49 L523.00,211.63 L524.50,211.78 L526.00,211.93 L527.50,212.08 L529.00,212.23 L530.50,212.38 L532.00,212.52 L533.50,212.67 L535.00,212.82 L536.50,212.96 L538.00,213.11 L539.50,213.26 L541.00,213.41 L542.50,213.57 L544.00,213.72 L545.50,213.87 L547.00,214.02 L548.50,214.18 L550.00,214.33 L551.50,214.48 L553.00,214.64 L554.50,214.79 L556.00,214.95 L557.50,215.10 L559.00,215.26 L560.50,215.42 L562.00,215.58 L563.50,215.73 L565.00,215.89 L566.50,216.05 L568.00,216.21 L569.50,216.37 L571.00,216.53 L572.50,216.69 L574.00,216.85 L575.50,217.01 L577.00,217.18 L578.50,217.34 L580.00,217.50 L581.50,217.66 L583.00,217.83 L584.50,217.99 L586.00,218.16 L587.50,218.32 L589.00,218.49 L590.50,218.65 L592.00,218.82 L593.50,218.99 L595.00,219.16 L596.50,219.32 L598.00,219.49 L599.50,219.66 L601.00,219.83 L602.50,220.00 L604.00,220.17 L605.50,220.34 L607.00,220.51 L608.50,220.69 L610.00,220.86 L611.50,221.03 L613.00,221.20 L614.50,221.38 L616.00,221.55 L617.50,221.73 L619.00,221.90 L620.50,222.08 L622.00,222.25 L623.50,222.43 L625.00,222.61 L626.50,222.78 L628.00,222.96 L629.50,223.14 L631.00,223.32 L632.50,223.50 L634.00,223.68 L635.50,223.86 L637.00,224.04 L638.50,224.22 L640.00,224.40 L641.50,224.58 L643.00,224.76 L644.50,224.95 L646.00,225.13 L647.50,225.31 L649.00,225.50 L650.50,225.68 L652.00,225.87 L653.50,226.05 L655.00,226.24 L656.50,226.43 L658.00,226.61 L659.50,226.80 L661.00,226.99 L662.50,227.18 L664.00,227.37 L665.50,227.56 L667.00,227.75 L668.50,227.94 L670.00,228.13 L671.50,228.32 L673.00,228.51 L674.50,228.70 L676.00,228.89 L677.50,229.09 L679.00,229.28 L680.50,229.47 L682.00,229.67 L683.50,229.86 L685.00,230.06 L686.50,230.26 L688.00,230.45 L689.50,230.65 L691.00,230.85 L692.50,231.04 L694.00,231.24 L695.50,231.44 L697.00,231.64 L698.50,231.84 L700.00,232.04 L701.50,232.24 L703.00,232.44 L704.50,232.64 L706.00,232.84 L707.50,233.05 L709.00,233.25 L710.50,233.45 L712.00,233.66 L713.50,233.86 L715.00,234.06 L716.50,234.27 L718.00,234.48 L719.50,234.68 L721.00,234.89 L722.50,235.09 L724.00,235.30 L725.50,235.51 L727.00,235.72 L728.50,235.93 L730.00,236.14 L731.50,236.35 L733.00,236.56 L734.50,236.77 L736.00,236.98 L737.50,237.19 L739.00,237.40 L740.50,237.61 L742.00,237.83 L743.50,238.04 L745.00,238.25 L746.50,238.47 L748.00,238.68 L749.50,238.90 L751.00,239.12 L752.50,239.33 L754.00,239.55 L755.50,239.77 L757.00,239.98 L758.50,240.20 L760.00,240.42 L761.50,240.64 L763.00,240.86 L764.50,241.08 L766.00,241.30 L767.50,241.52 L769.00,241.74 L770.50,241.96 L772.00,242.19 L773.50,242.41 L775.00,242.63 L776.50,242.86" fill="none" stroke="#0000ff" stroke-width="2.5" stroke-dasharray="10.2 5" stroke-dashoffset="14.4"/>
<path d="M44.50,59.40 L45.00,59.42 L45.50,59.43 L46.00,59.44 L46.50,59.46 L47.00,59.47 L47.50,59.48 L48.00,59.50 L48.50,59.51 L49.00,59.53 L49.50,59.54 L50.00,59.55 L50.50,59.57 L51.00,59.58 L51.50,59.60 L52.00,59.61 L52.50,59.62 L53.00,59.64 L53.50,59.65 L54.00,59.67 L54.50,59.68 L55.00,59.70 L55.50,59.71 L56.00,59.73 L56.50,59.74 L57.00,59.76 L57.50,59.77 L58.00,59.79 L58.50,59.80 L59.00,59.82 L59.50,59.83 L60.00,59.85 L60.50,59.86 L61.00,59.88 L61.50,59.89 L62.00,59.91 L62.50,59.92 L63.00,59.94 L63.50,59.95 L64.00,59.97 L64.50,59.98 L65.00,60.00 L65.50,60.02 L66.00,60.03 L66.50,60.05 L67.00,60.06 L67.50,60.08 L68.00,60.10 L68.50,60.11 L69.00,60.13 L69.50,60.14 L70.00,60.16 L70.50,60.18 L71.00,60.19 L71.50,60.21 L72.00,60.23 L72.50,60.24 L73.00,60.26 L73.50,60.28 L74.00,60.29 L74.50,60.31 L75.00,60.33 L75.50,60.34 L76.00,60.36 L76.50,60.38 L77.00,60.40 L77.50,60.41 L78.00,60.43 L78.50,60.45 L79.00,60.47 L79.50,60.48 L80.00,60.50 L80.50,60.52 L81.00,60.54 L81.50,60.55 L82.00,60.57 L82.50,60.59 L83.00,60.61 L83.50,60.63 L84.00,60.64 L84.50,60.66 L85.00,60.68 L85.50,60.70 L86.00,60.72 L86.50,60.74 L87.00,60.76 L87.50,60.77 L88.00,60.79 L88.50,60.81 L89.00,60.83 L89.50,60.85 L90.00,60.87 L90.50,60.89 L91.00,60.91 L91.50,60.93 L92.00,60.95 L92.50,60.97 L93.00,60.99 L93.50,61.01 L94.00,61.03 L94.50,61.04 L95.00,61.06 L95.50,61.08 L96.00,61.10 L96.50,61.12 L97.00,61.15 L97.50,61.17 L98.00,61.19 L98.50,61.21 L99.00,61.23 L99.50,61.25 L100.00,61.27 L100.50,61.29 L101.00,61.31 L101.50,61.33 L102.00,61.35 L102.50,61.37 L103.00,61.39 L103.50,61.42 L104.00,61.44 L104.50,61.46 L105.00,61.48 L105.50,61.50 L106.00,61.52 L106.50,61.54 L107.00,61.57 L107.50,61.59 L108.00,61.61 L108.50,61.63 L109.00,61.65 L109.50,61.68 L110.00,61.70 L110.50,61.72 L111.00,61.74 L111.50,61.77 L112.00,61.79 L112.50,61.81 L113.00,61.84 L113.50,61.86 L114.00,61.88 L114.50,61.90 L115.00,61.93 L115.50,61.95 L116.00,61.97 L116.50,62.00 L117.00,62.02 L117.50,62.05 L118.00,62.07 L118.50,62.09 L119.00,62.12 L119.50,62.14 L120.00,62.17 L120.50,62.19 L121.00,62.21 L121.50,62.24 L122.00,62.26 L122.50,62.29 L123.00,62.31 L123.50,62.34 L124.00,62.36 L124.50,62.39 L125.00,62.41 L125.50,62.44 L126.00,62.46 L126.50,62.49 L127.00,62.52 L127.50,62.54 L128.00,62.57 L128.50,62.59 L129.00,62.62 L129.50,62.64 L130.00,62.67 L130.50,62.70 L131.00,62.72 L131.50,62.75 L132.00,62.78 L132.50,62.80 L133.00,62.83 L133.50,62.86 L134.00,62.88 L134.50,62.91 L135.00,62.94 L135.50,62.97 L136.00,62.99 L136.50,63.02 L137.00,63.05 L137.50,63.08 L138.00,63.10 L138.50,63.13 L139.00,63.16 L139.50,63.19 L140.00,63.22 L140.50,63.25 L141.00,63.27 L141.50,63.30 L142.00,63.33 L142.50,63.36 L143.00,63.39 L143.50,63.42 L144.00,63.45 L144.50,63.48 L145.00,63.51 L145.50,63.54 L146.00,63.57 L146.50,63.60 L147.00,63.63 L147.50,63.66 L148.00,63.69 L148.50,63.72 L149.00,63.75 L149.50,63.78 L150.00,63.81 L150.50,63.84 L151.00,63.87 L151.50,63.90 L152.00,63.93 L152.50,63.96 L153.00,63.99 L153.50,64.03 L154.00,64.06 L154.50,64.09 L155.00,64.12 L155.50,64.15 L156.00,64.18 L156.50,64.22 L157.00,64.25 L157.50,64.28 L158.00,64.31 L158.50,64.35 L159.00,64.38 L159.50,64.41 L160.00,64.45 L160.50,64.48 L161.00,64.51 L161.50,64.55 L162.00,64.58 L162.50,64.61 L163.00,64.65 L163.50,64.68 L164.00,64.72 L164.50,64.75 L165.00,64.79 L165.50,64.82 L166.00,64.85 L166.50,64.89 L167.00,64.92 L167.50,64.96 L168.00,65.00 L168.50,65.03 L169.00,65.07 L169.50,65.10 L170.00,65.14 L170.50,65.17 L171.00,65.21 L171.50,65.25 L172.00,65.28 L172.50,65.32 L173.00,65.36 L173.50,65.39 L174.00,65.43 L174.50,65.47 L175.00,65.50 L175.50,65.54 L176.00,65.58 L176.50,65.62 L177.00,65.66 L177.50,65.69 L178.00,65.73 L178.50,65.77 L179.00,65.81 L179.50,65.85 L180.00,65.89 L180.50,65.92 L181.00,65.96 L181.50,66.00 L182.00,66.04 L182.50,66.08 L183.00,66.12 L183.50,66.16 L184.00,66.20 L184.50,66.24 L185.00,66.28 L185.50,66.32 L186.00,66.36 L186.50,66.40 L187.00,66.45 L187.50,66.49 L188.00,66.53 L188.50,66.57 L189.00,66.61 L189.50,66.65 L190.00,66.69 L190.50,66.74 L191.00,66.78 L191.50,66.82 L192.00,66.86 L192.50,66.91 L193.00,66.95 L193.50,66.99 L194.00,67.04 L194.50,67.08 L195.00,67.12 L195.50,67.17 L196.00,67.21 L196.50,67.26 L197.00,67.30 L197.50,67.34 L198.00,67.39 L198.50,67.43 L199.00,67.48 L199.50,67.52 L200.00,67.57 L200.50,67.61 L201.00,67.66 L201.50,67.71 L202.00,67.75 L202.50,67.80 L203.00,67.85 L203.50,67.89 L204.00,67.94 L204.50,67.99 L205.00,68.03 L205.50,68.08 L206.00,68.13 L206.50,68.18 L207.00,68.22 L207.50,68.27 L208.00,68.32 L208.50,68.37 L209.00,68.42 L209.50,68.47 L210.00,68.52 L210.50,68.56 L211.00,68.61 L211.50,68.66 L212.00,68.71 L212.50,68.76 L213.00,68.81 L213.50,68.86 L214.00,68.92 L214.50,68.97 L215.00,69.02 L215.50,69.07 L216.00,69.12 L216.50,69.17 L217.00,69.22 L217.50,69.28 L218.00,69.33 L218.50,69.38 L219.00,69.43 L219.50,69.49 L220.00,69.54 L220.50,69.59 L221.00,69.65 L221.50,69.70 L222.00,69.75 L222.50,69.81 L223.00,69.86 L223.50,69.92 L224.00,69.97 L224.50,70.03 L225.00,70.08 L225.50,70.14 L226.00,70.19 L226.50,70.25 L227.00,70.30 L227.50,70.36 L228.00,70.42 L228.50,70.47 L229.00,70.53 L229.50,70.59 L230.00,70.65 L230.50,70.70 L231.00,70.76 L231.50,70.82 L232.00,70.88 L232.50,70.94 L233.00,70.99 L233.50,71.05 L234.00,71.11 L234.50,71.17 L235.00,71.23 L235.50,71.29 L236.00,71.35 L236.50,71.41 L237.00,71.47 L237.50,71.53 L238.00,71.59 L238.50,71.66 L239.00,71.72 L239.50,71.78 L240.00,71.84 L240.50,71.90 L241.00,71.97 L241.50,72.03 L242.00,72.09 L242.50,72.16 L243.00,72.22 L243.50,72.28 L244.00,72.35 L244.50,72.41 L245.00,72.48 L245.50,72.54 L246.00,72.61 L246.50,72.67 L247.00,72.74 L247.50,72.80 L248.00,72.87 L248.50,72.94 L249.00,73.00 L249.50,73.07 L250.00,73.14 L250.50,73.20 L251.00,73.27 L251.50,73.34 L252.00,73.41 L252.50,73.48 L253.00,73.54 L253.50,73.61 L254.00,73.68 L254.50,73.75 L255.00,73.82 L255.50,73.89 L256.00,73.96 L256.50,74.03 L257.00,74.10 L257.50,74.17 L258.00,74.25 L258.50,74.32 L259.00,74.39 L259.50,74.46 L260.00,74.53 L260.50,74.61 L261.00,74.68 L261.50,74.75 L262.00,74.83 L262.50,74.90 L263.00,74.98 L263.50,75.05 L264.00,75.13 L264.50,75.20 L265.00,75.28 L265.50,75.35 L266.00,75.43 L266.50,75.50 L267.00,75.58 L267.50,75.66 L268.00,75.74 L268.50,75.81 L269.00,75.89 L269.50,75.97 L270.00,76.05 L270.50,76.13 L271.00,76.20 L271.50,76.28 L272.00,76.36 L272.50,76.44 L273.00,76.52 L273.50,76.60 L274.00,76.69 L274.50,76.77 L275.00,76.85 L275.50,76.93 L276.00,77.01 L276.50,77.09 L277.00,77.18 L277.50,77.26 L278.00,77.34 L278.50,77.43 L279.00,77.51 L279.50,77.60 L280.00,77.68 L280.50,77.77 L281.00,77.85 L281.50,77.94 L282.00,78.02 L282.50,78.11 L283.00,78.20 L283.50,78.28 L284.00,78.37 L284.50,78.46 L285.00,78.55 L285.50,78.64 L286.00,78.73 L286.50,78.81 L287.00,78.90 L287.50,78.99 L288.00,79.08 L288.50,79.17 L289.00,79.27 L289.50,79.36 L290.00,79.45 L290.50,79.54 L291.00,79.63 L291.50,79.73 L292.00,79.82 L292.50,79.91 L293.00,80.01 L293.50,80.10 L294.00,80.19 L294.50,80.29 L295.00,80.38 L295.50,80.48 L296.00,80.58 L296.50,80.67 L297.00,80.77 L297.50,80.87 L298.00,80.96 L298.50,81.06 L299.00,81.16 L299.50,81.26 L300.00,81.36 L300.50,81.46 L301.00,81.56 L301.50,81.66 L302.00,81.76 L302.50,81.86 L303.00,81.96 L303.50,82.06 L304.00,82.16 L304.50,82.27 L305.00,82.37 L305.50,82.47 L306.00,82.58 L306.50,82.68 L307.00,82.78 L307.50,82.89 L308.00,82.99 L308.50,83.10 L309.00,83.21 L309.50,83.31 L310.00,83.42 L310.50,83.53 L311.00,83.63 L311.50,83.74 L312.00,83.85 L312.50,83.96 L313.00,84.07 L313.50,84.18 L314.00,84.29 L314.50,84.40 L315.00,84.51 L315.50,84.62 L316.00,84.73 L316.50,84.85 L317.00,84.96 L317.50,85.07 L318.00,85.19 L318.50,85.30 L319.00,85.42 L319.50,85.53 L320.00,85.65 L320.50,85.76 L321.00,85.88 L321.50,86.00 L322.00,86.11 L322.50,86.23 L323.00,86.35 L323.50,86.47 L324.00,86.59 L324.50,86.71 L325.00,86.83 L325.50,86.95 L326.00,87.07 L326.50,87.19 L327.00,87.31 L327.50,87.43 L328.00,87.56 L328.50,87.68 L329.00,87.80 L329.50,87.93 L330.00,88.05 L330.50,88.18 L331.00,88.30 L331.50,88.43 L332.00,88.55 L332.50,88.68 L333.00,88.81 L333.50,88.94 L334.00,89.07 L334.50,89.19 L335.00,89.32 L335.50,89.45 L336.00,89.58 L336.50,89.72 L337.00,89.85 L337.50,89.98 L338.00,90.11 L338.50,90.24 L339.00,90.38 L339.50,90.51 L340.00,90.65 L340.50,90.78 L341.00,90.92 L341.50,91.05 L342.00,91.19 L342.50,91.33 L343.00,91.46 L343.50,91.60 L344.00,91.74 L344.50,91.88 L345.00,92.02 L345.50,92.16 L346.00,92.30 L346.50,92.44 L347.00,92.58 L347.50,92.73 L348.00,92.87 L348.50,93.01 L349.00,93.16 L349.50,93.30 L350.00,93.45 L350.50,93.59 L351.00,93.74 L351.50,93.88 L352.00,94.03 L352.50,94.18 L353.00,94.33 L353.50,94.48 L354.00,94.63 L354.50,94.78 L355.00,94.93 L355.50,95.08 L356.00,95.23 L356.50,95.38 L357.00,95.54 L357.50,95.69 L358.00,95.84 L358.50,96.00 L359.00,96.15 L359.50,96.31 L360.00,96.47 L360.50,96.62 L361.00,96.78 L361.50,96.94 L362.00,97.10 L362.50,97.26 L363.00,97.42 L363.50,97.58 L364.00,97.74 L364.50,97.90 L365.00,98.06 L365.50,98.23 L366.00,98.39 L366.50,98.55 L367.00,98.72 L367.50,98.88 L368.00,99.05 L368.50,99.22 L369.00,99.38 L369.50,99.55 L370.00,99.72 L370.50,99.89 L371.00,100.06 L371.50,100.23 L372.00,100.40 L372.50,100.57 L373.00,100.74 L373.50,100.92 L374.00,101.09 L374.50,101.27 L375.00,101.44 L375.50,101.62 L376.00,101.79 L376.50,101.97 L377.00,102.15 L377.50,102.32 L378.00,102.50 L378.50,102.68 L379.00,102.86 L379.50,103.04 L380.00,103.23 L380.50,103.41 L381.00,103.59 L381.50,103.77 L382.00,103.96 L382.50,104.14 L383.00,104.33 L383.50,104.51 L384.00,104.70 L384.50,104.89 L385.00,105.08 L385.50,105.27 L386.00,105.46 L386.50,105.65 L387.00,105.84 L387.50,106.03 L388.00,106.22 L388.50,106.41 L389.00,106.61 L389.50,106.80 L390.00,107.00 L390.50,107.19 L391.00,107.39 L391.50,107.59 L392.00,107.79 L392.50,107.98 L393.00,108.18 L393.50,108.38 L394.00,108.58 L394.50,108.79 L395.00,108.99 L395.50,109.19 L396.00,109.40 L396.50,109.60 L397.00,109.81 L397.50,110.01 L398.00,110.22 L398.50,110.43 L399.00,110.63 L399.50,110.84 L400.00,111.05 L400.50,111.26 L401.00,111.48 L401.50,111.69 L402.00,111.90 L402.50,112.11 L403.00,112.33 L403.50,112.54 L404.00,112.76 L404.50,112.98 L405.00,113.19 L405.50,113.41 L406.00,113.63 L406.50,113.85 L407.00,114.07 L407.50,114.29 L408.00,114.51 L408.50,114.74 L409.00,114.96 L409.50,115.19 L410.00,115.41 L410.50,115.64 L411.00,115.86 L411.50,116.09 L412.00,116.32 L412.50,116.55 L413.00,116.78 L413.50,117.01 L414.00,117.24 L414.50,117.47 L415.00,117.71 L415.50,117.94 L416.00,118.18 L416.50,118.41 L417.00,118.65 L417.50,118.89 L418.00,119.12 L418.50,119.36 L419.00,119.60 L419.50,119.84 L420.00,120.08 L420.50,120.33 L421.00,120.57 L421.50,120.81 L422.00,121.06 L422.50,121.30 L423.00,121.55 L423.50,121.80 L424.00,122.05 L424.50,122.30 L425.00,122.55 L425.50,122.80 L426.00,123.05 L426.50,123.30 L427.00,123.55 L427.50,123.81 L428.00,124.06 L428.50,124.32 L429.00,124.58 L429.50,124.83 L430.00,125.09 L430.50,125.35 L431.00,125.61 L431.50,125.87 L432.00,126.13 L432.50,126.40 L433.00,126.66 L433.50,126.93 L434.00,127.19 L434.50,127.46 L435.00,127.73 L435.50,127.99 L436.00,128.26 L436.50,128.53 L437.00,128.80 L437.50,129.08 L438.00,129.35 L438.50,129.62 L439.00,129.90 L439.50,130.17 L440.00,130.45 L440.50,130.72 L441.00,131.00 L441.50,131.28 L442.00,131.56 L442.50,131.84 L443.00,132.12 L443.50,132.41 L444.00,132.69 L444.50,132.97 L445.00,133.26 L445.50,133.55 L446.00,133.83 L446.50,134.12 L447.00,134.41 L447.50,134.70 L448.00,134.99 L448.50,135.28 L449.00,135.58 L449.50,135.87 L450.00,136.16 L450.50,136.46 L451.00,136.76 L451.50,137.05 L452.00,137.35 L452.50,137.65 L453.00,137.95 L453.50,138.25 L454.00,138.55 L454.50,138.86 L455.00,139.16 L455.50,139.47 L456.00,139.77 L456.50,140.08 L457.00,140.39 L457.50,140.69 L458.00,141.00 L458.50,141.31 L459.00,141.63 L459.50,141.94 L460.00,142.25 L460.50,142.57 L461.00,142.88 L461.50,143.20 L462.00,143.51 L462.50,143.83 L463.00,144.15 L463.50,144.47 L464.00,144.79 L464.50,145.11 L465.00,145.44 L465.50,145.76 L466.00,146.08 L466.50,146.41 L467.00,146.74 L467.50,147.06 L468.00,147.39 L468.50,147.72 L469.00,148.05 L469.50,148.38 L470.00,148.72 L470.50,149.05 L471.00,149.38 L471.50,149.72 L472.00,150.05 L472.50,150.39 L473.00,150.73 L473.50,151.07 L474.00,151.41 L474.50,151.75 L475.00,152.09 L475.50,152.43 L476.00,152.78 L476.50,153.12 L477.00,153.47 L477.50,153.81 L478.00,154.16 L478.50,154.51 L479.00,154.86 L479.50,155.21 L480.00,155.56 L480.50,155.91 L481.00,156.27 L481.50,156.62 L482.00,156.98 L482.50,157.33 L483.00,157.69 L483.50,158.05 L484.00,158.40 L484.50,158.76 L485.00,159.12 L485.50,159.49 L486.00,159.85 L486.50,160.21 L487.00,160.58 L487.50,160.94 L488.00,161.31 L488.50,161.67 L489.00,162.04 L489.50,162.41 L490.00,162.78 L490.50,163.15 L491.00,163.52 L491.50,163.90 L492.00,164.27 L492.50,164.64 L493.00,165.02 L493.50,165.39 L494.00,165.77 L494.50,166.15 L495.00,166.53 L495.50,166.91 L496.00,167.29 L496.50,167.67 L497.00,168.05 L497.50,168.43 L498.00,168.82 L498.50,169.20 L499.00,169.59 L499.50,169.98 L500.00,170.36 L500.50,170.75 L501.00,171.14 L501.50,171.53 L502.00,171.92 L502.50,172.31 L503.00,172.71 L503.50,173.10 L504.00,173.49 L504.50,173.89 L505.00,174.28 L505.50,174.68 L506.00,175.08 L506.50,175.48 L507.00,175.88 L507.50,176.28 L508.00,176.68 L508.50,177.08 L509.00,177.48 L509.50,177.88 L510.00,178.29 L510.50,178.69 L511.00,179.10 L511.50,179.50 L512.00,179.91 L512.50,180.32 L513.00,180.73 L513.50,181.14 L514.00,181.55 L514.50,181.96 L515.00,182.37 L515.50,182.78 L516.00,183.19 L516.50,183.61 L517.00,184.02 L517.50,184.43 L518.00,184.85 L518.50,185.27 L519.00,185.68 L519.50,186.10 L520.00,186.52 L520.50,186.94 L521.00,187.36 L521.50,187.78 L522.00,188.20 L522.50,188.62 L523.00,189.04 L523.50,189.46 L524.00,189.89 L524.50,190.31 L525.00,190.74 L525.50,191.16 L526.00,191.59 L526.50,192.01 L527.00,192.44 L527.50,192.87 L528.00,193.29 L528.50,193.72 L529.00,194.15 L529.50,194.58 L530.00,195.01 L530.50,195.44 L531.00,195.87 L531.50,196.30 L532.00,196.73 L532.50,197.17 L533.00,197.60 L533.50,198.03 L534.00,198.47 L534.50,198.90 L535.00,199.33 L535.50,199.77 L536.00,200.20 L536.50,200.64 L537.00,201.08 L537.50,201.51 L538.00,201.95 L538.50,202.39 L539.00,202.82 L539.50,203.26 L540.00,203.70 L540.50,204.14 L541.00,204.58 L541.50,205.01 L542.00,205.45 L542.50,205.89 L543.00,206.33 L543.50,206.77 L544.00,207.21 L544.50,207.65 L545.00,208.09 L545.50,208.53 L546.00,208.98 L546.50,209.42 L547.00,209.86 L547.50,210.30 L548.00,210.74 L548.50,211.18 L549.00,211.62 L549.50,212.06 L550.00,212.51 L550.50,212.95 L551.00,213.39 L551.50,213.83 L552.00,214.27 L552.50,214.72 L553.00,215.16 L553.50,215.60 L554.00,216.04 L554.50,216.48 L555.00,216.93 L555.50,217.37 L556.00,217.81 L556.50,218.25 L557.00,218.69 L557.50,219.13 L558.00,219.57 L558.50,220.01 L559.00,220.45 L559.50,220.90 L560.00,221.34 L560.50,221.78 L561.00,222.22 L561.50,222.65 L562.00,223.09 L562.50,223.53 L563.00,223.97 L563.50,224.41 L564.00,224.85 L564.50,225.29 L565.00,225.72 L565.50,226.16 L566.00,226.60 L566.50,227.03 L567.00,227.47 L567.50,227.90 L568.00,228.34 L568.50,228.77 L569.00,229.21 L569.50,229.64 L570.00,230.07 L570.50,230.50 L571.00,230.94 L571.50,231.37 L572.00,231.80 L572.50,232.23 L573.00,232.66 L573.50,233.08 L574.00,233.51 L574.50,233.94 L575.00,234.37 L575.50,234.79 L576.00,235.22 L576.50,235.64 L577.00,236.06 L577.50,236.49 L578.00,236.91 L578.50,237.33 L579.00,237.75 L579.50,238.17 L580.00,238.59 L580.50,239.00 L581.00,239.42 L581.50,239.84 L582.00,240.25 L582.50,240.66 L583.00,241.08 L583.50,241.49 L584.00,241.90 L584.50,242.31 L585.00,242.72 L585.50,243.12 L586.00,243.53 L586.50,243.93 L587.00,244.34 L587.50,244.74 L588.00,245.14" fill="none" stroke="#ff00ff" stroke-width="3.3"/>
<path d="M596.00,251.39 L596.50,251.77 L597.00,252.15 L597.50,252.52 L598.00,252.90 L598.50,253.27 L599.00,253.64 L599.50,254.01 L600.00,254.38 L600.50,254.75 L601.00,255.11 L601.50,255.47 L602.00,255.83 L602.50,256.19 L603.00,256.55 L603.50,256.91 L604.00,257.26 L604.50,257.62 L605.00,257.97 L605.50,258.32 L606.00,258.66 L606.50,259.01 L607.00,259.35 L607.50,259.69 L608.00,260.03 L608.50,260.37 L609.00,260.71 L609.50,261.04 L610.00,261.37 L610.50,261.70 L611.00,262.03 L611.50,262.36 L612.00,262.68 L612.50,263.01 L613.00,263.33 L613.50,263.64 L614.00,263.96 L614.50,264.28 L615.00,264.59 L615.50,264.90 L616.00,265.21 L616.50,265.51 L617.00,265.82 L617.50,266.12 L618.00,266.42 L618.50,266.72 L619.00,267.01 L619.50,267.30 L620.00,267.59 L620.50,267.88 L621.00,268.17 L621.50,268.45 L622.00,268.74 L622.50,269.02 L623.00,269.29 L623.50,269.57 L624.00,269.84 L624.50,270.11 L625.00,270.38 L625.50,270.65 L626.00,270.91 L626.50,271.18 L627.00,271.44 L627.50,271.69 L628.00,271.95 L628.50,272.20 L629.00,272.45 L629.50,272.70 L630.00,272.95 L630.50,273.19 L631.00,273.43 L631.50,273.67 L632.00,273.91 L632.50,274.14 L633.00,274.37 L633.50,274.60 L634.00,274.83 L634.50,275.05 L635.00,275.28 L635.50,275.50 L636.00,275.72 L636.50,275.93 L637.00,276.14 L637.50,276.36 L638.00,276.56 L638.50,276.77 L639.00,276.97 L639.50,277.18 L640.00,277.37 L640.50,277.57 L641.00,277.77 L641.50,277.96 L642.00,278.15 L642.50,278.34 L643.00,278.52 L643.50,278.70 L644.00,278.88 L644.50,279.06 L645.00,279.24 L645.50,279.41 L646.00,279.58 L646.50,279.75 L647.00,279.92 L647.50,280.09 L648.00,280.25 L648.50,280.41 L649.00,280.57 L649.50,280.72 L650.00,280.88 L650.50,281.03 L651.00,281.18 L651.50,281.32 L652.00,281.47 L652.50,281.61 L653.00,281.75 L653.50,281.89 L654.00,282.03 L654.50,282.16 L655.00,282.29 L655.50,282.42 L656.00,282.55 L656.50,282.68 L657.00,282.80 L657.50,282.92 L658.00,283.04 L658.50,283.16 L659.00,283.27 L659.50,283.39 L660.00,283.50 L660.50,283.61 L661.00,283.72 L661.50,283.82 L662.00,283.93 L662.50,284.03 L663.00,284.13 L663.50,284.23 L664.00,284.33 L664.50,284.42 L665.00,284.51 L665.50,284.60 L666.00,284.69 L666.50,284.78 L667.00,284.87 L667.50,284.95 L668.00,285.03 L668.50,285.12 L669.00,285.19 L669.50,285.27 L670.00,285.35 L670.50,285.42 L671.00,285.50 L671.50,285.57 L672.00,285.64 L672.50,285.70 L673.00,285.77 L673.50,285.84 L674.00,285.90 L674.50,285.96 L675.00,286.02 L675.50,286.08 L676.00,286.14 L676.50,286.20 L677.00,286.25 L677.50,286.31 L678.00,286.36 L678.50,286.41 L679.00,286.46 L679.50,286.51 L680.00,286.56 L680.50,286.61 L681.00,286.65 L681.50,286.70 L682.00,286.74 L682.50,286.78 L683.00,286.82 L683.50,286.86 L684.00,286.90 L684.50,286.94 L685.00,286.97 L685.50,287.01 L686.00,287.04 L686.50,287.08 L687.00,287.11 L687.50,287.14 L688.00,287.17 L688.50,287.20 L689.00,287.23 L689.50,287.26 L690.00,287.29 L690.50,287.31 L691.00,287.34 L691.50,287.36 L692.00,287.39 L692.50,287.41 L693.00,287.44 L693.50,287.46 L694.00,287.48 L694.50,287.50 L695.00,287.52 L695.50,287.54 L696.00,287.56 L696.50,287.57 L697.00,287.59 L697.50,287.61 L698.00,287.63 L698.50,287.64 L699.00,287.66 L699.50,287.67 L700.00,287.68 L700.50,287.70 L701.00,287.71 L701.50,287.72 L702.00,287.74 L702.50,287.75 L703.00,287.76 L703.50,287.77 L704.00,287.78 L704.50,287.79 L705.00,287.80 L705.50,287.81 L706.00,287.82 L706.50,287.83 L707.00,287.83 L707.50,287.84 L708.00,287.85 L708.50,287.86 L709.00,287.86 L709.50,287.87 L710.00,287.88 L710.50,287.88 L711.00,287.89 L711.50,287.89 L712.00,287.90 L712.50,287.91 L713.00,287.91 L713.50,287.91 L714.00,287.92 L714.50,287.92 L715.00,287.93 L715.50,287.93 L716.00,287.93 L716.50,287.94 L717.00,287.94 L717.50,287.95 L718.00,287.95 L718.50,287.95 L719.00,287.95 L719.50,287.96 L720.00,287.96 L720.50,287.96 L721.00,287.96 L721.50,287.97 L722.00,287.97 L722.50,287.97 L723.00,287.97 L723.50,287.97 L724.00,287.97 L724.50,287.98 L725.00,287.98 L725.50,287.98 L726.00,287.98 L726.50,287.98 L727.00,287.98 L727.50,287.98 L728.00,287.98 L728.50,287.99 L729.00,287.99 L729.50,287.99 L730.00,287.99 L730.50,287.99 L731.00,287.99 L731.50,287.99 L732.00,287.99 L732.50,287.99 L733.00,287.99 L733.50,287.99 L734.00,287.99 L734.50,287.99 L735.00,287.99 L735.50,287.99 L736.00,288.00 L736.50,288.00 L737.00,288.00 L737.50,288.00 L738.00,288.00 L738.50,288.00 L739.00,288.00 L739.50,288.00 L740.00,288.00 L740.50,288.00 L741.00,288.00 L741.50,288.00 L742.00,288.00 L742.50,288.00 L743.00,288.00 L743.50,288.00 L744.00,288.00 L744.50,288.00 L745.00,288.00 L745.50,288.00 L746.00,288.00 L746.50,288.00 L747.00,288.00 L747.50,288.00 L748.00,288.00 L748.50,288.00 L749.00,288.00 L749.50,288.00 L750.00,288.00 L750.50,288.00 L751.00,288.00 L751.50,288.00 L752.00,288.00 L752.50,288.00 L753.00,288.00 L753.50,288.00 L754.00,288.00 L754.50,288.00 L755.00,288.00 L755.50,288.00 L756.00,288.00 L756.50,288.00 L757.00,288.00 L757.50,288.00 L758.00,288.00 L758.50,288.00 L759.00,288.00 L759.50,288.00 L760.00,288.00 L760.50,288.00 L761.00,288.00 L761.50,288.00 L762.00,288.00 L762.50,288.00 L763.00,288.00 L763.50,288.00 L764.00,288.00 L764.50,288.00 L765.00,288.00 L765.50,288.00 L766.00,288.00 L766.50,288.00 L767.00,288.00 L767.50,288.00 L768.00,288.00 L768.50,288.00 L769.00,288.00 L769.50,288.00 L770.00,288.00 L770.50,288.00 L771.00,288.00 L771.50,288.00 L772.00,288.00 L772.50,288.00 L773.00,288.00 L773.50,288.00 L774.00,288.00 L774.50,288.00 L775.00,288.00 L775.50,288.00 L776.00,288.00 L776.50,288.00 L777.00,288.00 L777.50,288.00" fill="none" stroke="#ff00ff" stroke-width="3.3"/>
<path d="M44.50,59.40 L46.00,59.45 L47.50,59.49 L49.00,59.53 L50.50,59.57 L52.00,59.61 L53.50,59.65 L55.00,59.70 L56.50,59.74 L58.00,59.79 L59.50,59.83 L61.00,59.88 L62.50,59.92 L64.00,59.97 L65.50,60.02 L67.00,60.06 L68.50,60.11 L70.00,60.16 L71.50,60.21 L73.00,60.26 L74.50,60.31 L76.00,60.36 L77.50,60.41 L79.00,60.47 L80.50,60.52 L82.00,60.57 L83.50,60.63 L85.00,60.68 L86.50,60.74 L88.00,60.79 L89.50,60.85 L91.00,60.91 L92.50,60.97 L94.00,61.03 L95.50,61.08 L97.00,61.15 L98.50,61.21 L100.00,61.27 L101.50,61.33 L103.00,61.39 L104.50,61.46 L106.00,61.52 L107.50,61.59 L109.00,61.65 L110.50,61.72 L112.00,61.79 L113.50,61.86 L115.00,61.93 L116.50,62.00 L118.00,62.07 L119.50,62.14 L121.00,62.21 L122.50,62.29 L124.00,62.36 L125.50,62.44 L127.00,62.52 L128.50,62.59 L130.00,62.67 L131.50,62.75 L133.00,62.83 L134.50,62.91 L136.00,62.99 L137.50,63.08 L139.00,63.16 L140.50,63.25 L142.00,63.33 L143.50,63.42 L145.00,63.51 L146.50,63.60 L148.00,63.69 L149.50,63.78 L151.00,63.87 L152.50,63.96 L154.00,64.06 L155.50,64.15 L157.00,64.25 L158.50,64.35 L160.00,64.45 L161.50,64.55 L163.00,64.65 L164.50,64.75 L166.00,64.85 L167.50,64.96 L169.00,65.07 L170.50,65.17 L172.00,65.28 L173.50,65.39 L175.00,65.50 L176.50,65.62 L178.00,65.73 L179.50,65.85 L181.00,65.96 L182.50,66.08 L184.00,66.20 L185.50,66.32 L187.00,66.44 L188.50,66.57 L190.00,66.69 L191.50,66.82 L193.00,66.95 L194.50,67.08 L196.00,67.21 L197.50,67.34 L199.00,67.48 L200.50,67.61 L202.00,67.75 L203.50,67.89 L205.00,68.03 L206.50,68.18 L208.00,68.32 L209.50,68.47 L211.00,68.61 L212.50,68.76 L214.00,68.92 L215.50,69.07 L217.00,69.22 L218.50,69.38 L220.00,69.54 L221.50,69.70 L223.00,69.86 L224.50,70.03 L226.00,70.19 L227.50,70.36 L229.00,70.53 L230.50,70.70 L232.00,70.88 L233.50,71.05 L235.00,71.23 L236.50,71.41 L238.00,71.59 L239.50,71.78 L241.00,71.97 L242.50,72.16 L244.00,72.35 L245.50,72.54 L247.00,72.74 L248.50,72.94 L250.00,73.14 L251.50,73.34 L253.00,73.54 L254.50,73.75 L256.00,73.96 L257.50,74.17 L259.00,74.39 L260.50,74.61 L262.00,74.83 L263.50,75.05 L265.00,75.28 L266.50,75.50 L268.00,75.73 L269.50,75.97 L271.00,76.20 L272.50,76.44 L274.00,76.69 L275.50,76.93 L277.00,77.18 L278.50,77.43 L280.00,77.68 L281.50,77.94 L283.00,78.20 L284.50,78.46 L286.00,78.73 L287.50,78.99 L289.00,79.27 L290.50,79.54 L292.00,79.82 L293.50,80.10 L295.00,80.38 L296.50,80.67 L298.00,80.96 L299.50,81.26 L301.00,81.56 L302.50,81.86 L304.00,82.16 L305.50,82.47 L307.00,82.78 L308.50,83.10 L310.00,83.42 L311.50,83.74 L313.00,84.07 L314.50,84.40 L316.00,84.73 L317.50,85.07 L319.00,85.42 L320.50,85.76 L322.00,86.11 L323.50,86.47 L325.00,86.83 L326.50,87.19 L328.00,87.56 L329.50,87.93 L331.00,88.30 L332.50,88.68 L334.00,89.07 L335.50,89.45 L337.00,89.85 L338.50,90.24 L340.00,90.65 L341.50,91.05 L343.00,91.46 L344.50,91.88 L346.00,92.30 L347.50,92.73 L349.00,93.16 L350.50,93.59 L352.00,94.03 L353.50,94.48 L355.00,94.93 L356.50,95.38 L358.00,95.84 L359.50,96.31 L361.00,96.78 L362.50,97.26 L364.00,97.74 L365.50,98.23 L367.00,98.72 L368.50,99.22 L370.00,99.72 L371.50,100.23 L373.00,100.74 L374.50,101.27 L376.00,101.79 L377.50,102.32 L379.00,102.86 L380.50,103.41 L382.00,103.96 L383.50,104.51 L385.00,105.08 L386.50,105.65 L388.00,106.22 L389.50,106.80 L391.00,107.39 L392.50,107.98 L394.00,108.59 L395.50,109.19 L397.00,109.81 L398.50,110.43 L400.00,111.05 L401.50,111.69 L403.00,112.33 L404.50,112.98 L406.00,113.63 L407.50,114.29 L409.00,114.96 L410.50,115.64 L412.00,116.32 L413.50,117.01 L415.00,117.71 L416.50,118.41 L418.00,119.12 L419.50,119.84 L421.00,120.57 L422.50,121.30 L424.00,122.05 L425.50,122.80 L427.00,123.55 L428.50,124.31 L430.00,125.08 L431.50,125.84 L433.00,126.61 L434.50,127.39 L436.00,128.17 L437.50,128.96 L439.00,129.76 L440.50,130.56 L442.00,131.36 L443.50,132.18 L445.00,133.00 L446.50,133.83 L448.00,134.67 L449.50,135.52 L451.00,136.37 L452.50,137.24 L454.00,138.13 L455.50,139.02 L457.00,139.92 L458.50,140.84 L460.00,141.76 L461.50,142.69 L463.00,143.62 L464.50,144.56 L466.00,145.51 L467.50,146.45 L469.00,147.40 L470.50,148.36 L472.00,149.31 L473.50,150.26 L475.00,151.21 L476.50,152.16 L478.00,153.11 L479.50,154.07 L481.00,155.04 L482.50,156.00 L484.00,156.98 L485.50,157.96 L487.00,158.94 L488.50,159.93 L490.00,160.94 L491.50,161.97 L493.00,163.00 L494.50,164.04 L496.00,165.07 L497.50,166.09 L499.00,167.10 L500.50,168.07 L502.00,169.02 L503.50,169.93 L505.00,170.82 L506.50,171.71 L508.00,172.58 L509.50,173.46 L511.00,174.35 L512.50,175.26 L514.00,176.20 L515.50,177.17 L517.00,178.18 L518.50,179.21 L520.00,180.24 L521.50,181.29 L523.00,182.32 L524.50,183.33 L526.00,184.32 L527.50,185.27 L529.00,186.20 L530.50,187.13 L532.00,188.03 L533.50,188.93 L535.00,189.82 L536.50,190.69 L538.00,191.56 L539.50,192.41 L541.00,193.26 L542.50,194.09 L544.00,194.91 L545.50,195.72 L547.00,196.52 L548.50,197.32 L550.00,198.12 L551.50,198.91 L553.00,199.71 L554.50,200.53 L556.00,201.36 L557.50,202.19 L559.00,203.02 L560.50,203.84 L562.00,204.63 L563.50,205.40 L565.00,206.12 L566.50,206.80 L568.00,207.44 L569.50,208.05 L571.00,208.65 L572.50,209.22 L574.00,209.77 L575.50,210.31 L577.00,210.83 L578.50,211.34 L580.00,211.84 L581.50,212.33 L583.00,212.81 L584.50,213.27 L586.00,213.72 L587.50,214.16 L589.00,214.59 L590.50,215.01 L592.00,215.42 L593.50,215.83 L595.00,216.24 L596.50,216.64 L598.00,217.04 L599.50,217.45 L601.00,217.84 L602.50,218.23 L604.00,218.61 L605.50,218.98 L607.00,219.33 L608.50,219.67 L610.00,219.98 L611.50,220.29 L613.00,220.58 L614.50,220.87 L616.00,221.14 L617.50,221.41 L619.00,221.67 L620.50,221.91 L622.00,222.15 L623.50,222.38 L625.00,222.60 L626.50,222.81 L628.00,223.00 L629.50,223.19 L631.00,223.37 L632.50,223.54 L634.00,223.71 L635.50,223.88 L637.00,224.05 L638.50,224.22 L640.00,224.40 L641.50,224.58 L643.00,224.76 L644.50,224.95 L646.00,225.13 L647.50,225.31 L649.00,225.50 L650.50,225.68 L652.00,225.87 L653.50,226.05 L655.00,226.24 L656.50,226.43 L658.00,226.61 L659.50,226.80 L661.00,226.99 L662.50,227.18 L664.00,227.37 L665.50,227.56 L667.00,227.75 L668.50,227.94 L670.00,228.13 L671.50,228.32 L673.00,228.51 L674.50,228.70 L676.00,228.89 L677.50,229.09 L679.00,229.28 L680.50,229.47 L682.00,229.67 L683.50,229.86 L685.00,230.06 L686.50,230.26 L688.00,230.45 L689.50,230.65 L691.00,230.85 L692.50,231.04 L694.00,231.24 L695.50,231.44 L697.00,231.64 L698.50,231.84 L700.00,232.04 L701.50,232.24 L703.00,232.44 L704.50,232.64 L706.00,232.84 L707.50,233.05 L709.00,233.25 L710.50,233.45 L712.00,233.66 L713.50,233.86 L715.00,234.06 L716.50,234.27 L718.00,234.48 L719.50,234.68 L721.00,234.89 L722.50,235.09 L724.00,235.30 L725.50,235.51 L727.00,235.72 L728.50,235.93 L730.00,236.14 L731.50,236.35 L733.00,236.56 L734.50,236.77 L736.00,236.98 L737.50,237.19 L739.00,237.40 L740.50,237.61 L742.00,237.83 L743.50,238.04 L745.00,238.25 L746.50,238.47 L748.00,238.68 L749.50,238.90 L751.00,239.12 L752.50,239.33 L754.00,239.55 L755.50,239.77 L757.00,239.98 L758.50,240.20 L760.00,240.42 L761.50,240.64 L763.00,240.86 L764.50,241.08 L766.00,241.30 L767.50,241.52 L769.00,241.74 L770.50,241.96 L772.00,242.18 L773.50,242.41 L775.00,242.63 L776.50,242.85" fill="none" stroke="#ff00ff" stroke-width="2.5" stroke-dasharray="10.2 5" stroke-dashoffset="14.1"/>
<path d="M60.00,79.70 L60.50,79.79 L61.00,79.89 L61.50,79.98 L62.00,80.07 L62.50,80.17 L63.00,80.26 L63.50,80.36 L64.00,80.45 L64.50,80.55 L65.00,80.65 L65.50,80.74 L66.00,80.84 L66.50,80.94 L67.00,81.04 L67.50,81.13 L68.00,81.23 L68.50,81.33 L69.00,81.43 L69.50,81.53 L70.00,81.63 L70.50,81.73 L71.00,81.83 L71.50,81.93 L72.00,82.03 L72.50,82.14 L73.00,82.24 L73.50,82.34 L74.00,82.44 L74.50,82.55 L75.00,82.65 L75.50,82.76 L76.00,82.86 L76.50,82.97 L77.00,83.07 L77.50,83.18 L78.00,83.28 L78.50,83.39 L79.00,83.50 L79.50,83.61 L80.00,83.71 L80.50,83.82 L81.00,83.93 L81.50,84.04 L82.00,84.15 L82.50,84.26 L83.00,84.37 L83.50,84.48 L84.00,84.59 L84.50,84.71 L85.00,84.82 L85.50,84.93 L86.00,85.04 L86.50,85.16 L87.00,85.27 L87.50,85.39 L88.00,85.50 L88.50,85.62 L89.00,85.73 L89.50,85.85 L90.00,85.96 L90.50,86.08 L91.00,86.20 L91.50,86.32 L92.00,86.44 L92.50,86.55 L93.00,86.67 L93.50,86.79 L94.00,86.91 L94.50,87.03 L95.00,87.16 L95.50,87.28 L96.00,87.40 L96.50,87.52 L97.00,87.65 L97.50,87.77 L98.00,87.89 L98.50,88.02 L99.00,88.14 L99.50,88.27 L100.00,88.39 L100.50,88.52 L101.00,88.65 L101.50,88.78 L102.00,88.90 L102.50,89.03 L103.00,89.16 L103.50,89.29 L104.00,89.42 L104.50,89.55 L105.00,89.68 L105.50,89.81 L106.00,89.94 L106.50,90.08 L107.00,90.21 L107.50,90.34 L108.00,90.48 L108.50,90.61 L109.00,90.75 L109.50,90.88 L110.00,91.02 L110.50,91.15 L111.00,91.29 L111.50,91.43 L112.00,91.57 L112.50,91.70 L113.00,91.84 L113.50,91.98 L114.00,92.12 L114.50,92.26 L115.00,92.40 L115.50,92.55 L116.00,92.69 L116.50,92.83 L117.00,92.97 L117.50,93.12 L118.00,93.26 L118.50,93.41 L119.00,93.55 L119.50,93.70 L120.00,93.85 L120.50,93.99 L121.00,94.14 L121.50,94.29 L122.00,94.44 L122.50,94.59 L123.00,94.74 L123.50,94.89 L124.00,95.04 L124.50,95.19 L125.00,95.34 L125.50,95.50 L126.00,95.65 L126.50,95.80 L127.00,95.96 L127.50,96.11 L128.00,96.27 L128.50,96.42 L129.00,96.58 L129.50,96.74 L130.00,96.90 L130.50,97.06 L131.00,97.21 L131.50,97.37 L132.00,97.53 L132.50,97.70 L133.00,97.86 L133.50,98.02 L134.00,98.18 L134.50,98.35 L135.00,98.51 L135.50,98.67 L136.00,98.84 L136.50,99.01 L137.00,99.17 L137.50,99.34 L138.00,99.51 L138.50,99.68 L139.00,99.84 L139.50,100.01 L140.00,100.18 L140.50,100.36 L141.00,100.53 L141.50,100.70 L142.00,100.87 L142.50,101.05 L143.00,101.22 L143.50,101.39 L144.00,101.57 L144.50,101.75 L145.00,101.92 L145.50,102.10 L146.00,102.28 L146.50,102.46 L147.00,102.64 L147.50,102.82 L148.00,103.00 L148.50,103.18 L149.00,103.36 L149.50,103.54 L150.00,103.73 L150.50,103.91 L151.00,104.09 L151.50,104.28 L152.00,104.46 L152.50,104.65 L153.00,104.84 L153.50,105.03 L154.00,105.22 L154.50,105.41 L155.00,105.60 L155.50,105.79 L156.00,105.98 L156.50,106.17 L157.00,106.36 L157.50,106.56 L158.00,106.75 L158.50,106.95 L159.00,107.14 L159.50,107.34 L160.00,107.54 L160.50,107.73 L161.00,107.93 L161.50,108.13 L162.00,108.33 L162.50,108.53 L163.00,108.73 L163.50,108.94 L164.00,109.14 L164.50,109.34 L165.00,109.55 L165.50,109.75 L166.00,109.96 L166.50,110.16 L167.00,110.37 L167.50,110.58 L168.00,110.79 L168.50,111.00 L169.00,111.21 L169.50,111.42 L170.00,111.63 L170.50,111.84 L171.00,112.06 L171.50,112.27 L172.00,112.49 L172.50,112.70 L173.00,112.92 L173.50,113.14 L174.00,113.35 L174.50,113.57 L175.00,113.79 L175.50,114.01 L176.00,114.23 L176.50,114.46 L177.00,114.68 L177.50,114.90 L178.00,115.13 L178.50,115.35 L179.00,115.58 L179.50,115.80 L180.00,116.03 L180.50,116.26 L181.00,116.49 L181.50,116.72 L182.00,116.95 L182.50,117.18 L183.00,117.41 L183.50,117.65 L184.00,117.88 L184.50,118.11 L185.00,118.35 L185.50,118.59 L186.00,118.82 L186.50,119.06 L187.00,119.30 L187.50,119.54 L188.00,119.78 L188.50,120.02 L189.00,120.26 L189.50,120.51 L190.00,120.75 L190.50,120.99 L191.00,121.24 L191.50,121.49 L192.00,121.73 L192.50,121.98 L193.00,122.23 L193.50,122.48 L194.00,122.73 L194.50,122.98 L195.00,123.23 L195.50,123.49 L196.00,123.74 L196.50,124.00 L197.00,124.25 L197.50,124.51 L198.00,124.77 L198.50,125.02 L199.00,125.28 L199.50,125.54 L200.00,125.80 L200.50,126.07 L201.00,126.33 L201.50,126.59 L202.00,126.86 L202.50,127.12 L203.00,127.39 L203.50,127.65 L204.00,127.92 L204.50,128.19 L205.00,128.46 L205.50,128.73 L206.00,129.00 L206.50,129.28 L207.00,129.55 L207.50,129.82 L208.00,130.10 L208.50,130.37 L209.00,130.65 L209.50,130.93 L210.00,131.21 L210.50,131.49 L211.00,131.77 L211.50,132.05 L212.00,132.33 L212.50,132.62 L213.00,132.90 L213.50,133.18 L214.00,133.47 L214.50,133.76 L215.00,134.05 L215.50,134.33 L216.00,134.62 L216.50,134.91 L217.00,135.21 L217.50,135.50 L218.00,135.79 L218.50,136.09 L219.00,136.38 L219.50,136.68 L220.00,136.97 L220.50,137.27 L221.00,137.57 L221.50,137.87 L222.00,138.17 L222.50,138.47 L223.00,138.78 L223.50,139.08 L224.00,139.38 L224.50,139.69 L225.00,140.00 L225.50,140.30 L226.00,140.61 L226.50,140.92 L227.00,141.23 L227.50,141.54 L228.00,141.86 L228.50,142.17 L229.00,142.48 L229.50,142.80 L230.00,143.11 L230.50,143.43 L231.00,143.75 L231.50,144.07 L232.00,144.39 L232.50,144.71 L233.00,145.03 L233.50,145.35 L234.00,145.67 L234.50,146.00 L235.00,146.32 L235.50,146.65 L236.00,146.98 L236.50,147.31 L237.00,147.64 L237.50,147.97 L238.00,148.30 L238.50,148.63 L239.00,148.96 L239.50,149.30 L240.00,149.63 L240.50,149.97 L241.00,150.30 L241.50,150.64 L242.00,150.98 L242.50,151.32 L243.00,151.66 L243.50,152.00 L244.00,152.34 L244.50,152.69 L245.00,153.03 L245.50,153.38 L246.00,153.72 L246.50,154.07 L247.00,154.42 L247.50,154.77 L248.00,155.12 L248.50,155.47 L249.00,155.82 L249.50,156.17 L250.00,156.53 L250.50,156.88 L251.00,157.24 L251.50,157.59 L252.00,157.95 L252.50,158.31 L253.00,158.67 L253.50,159.03 L254.00,159.39 L254.50,159.75 L255.00,160.12 L255.50,160.48 L256.00,160.84 L256.50,161.21 L257.00,161.58 L257.50,161.94 L258.00,162.31 L258.50,162.68 L259.00,163.05 L259.50,163.42 L260.00,163.80 L260.50,164.17 L261.00,164.54 L261.50,164.92 L262.00,165.29 L262.50,165.67 L263.00,166.05 L263.50,166.43 L264.00,166.81 L264.50,167.19 L265.00,167.57 L265.50,167.95 L266.00,168.33 L266.50,168.72 L267.00,169.10 L267.50,169.49 L268.00,169.87 L268.50,170.26 L269.00,170.65 L269.50,171.04 L270.00,171.43 L270.50,171.82 L271.00,172.21 L271.50,172.60 L272.00,173.00 L272.50,173.39 L273.00,173.78 L273.50,174.18 L274.00,174.58 L274.50,174.97 L275.00,175.37 L275.50,175.77 L276.00,176.17 L276.50,176.57 L277.00,176.97 L277.50,177.37 L278.00,177.78 L278.50,178.18 L279.00,178.58 L279.50,178.99 L280.00,179.40 L280.50,179.80 L281.00,180.21 L281.50,180.62 L282.00,181.03 L282.50,181.44 L283.00,181.85 L283.50,182.26 L284.00,182.67 L284.50,183.08 L285.00,183.50 L285.50,183.91 L286.00,184.32 L286.50,184.74 L287.00,185.16 L287.50,185.57 L288.00,185.99 L288.50,186.41 L289.00,186.83 L289.50,187.25 L290.00,187.67 L290.50,188.09 L291.00,188.51 L291.50,188.93 L292.00,189.35 L292.50,189.77 L293.00,190.20 L293.50,190.62 L294.00,191.05 L294.50,191.47 L295.00,191.90 L295.50,192.33 L296.00,192.75 L296.50,193.18 L297.00,193.61 L297.50,194.04 L298.00,194.47 L298.50,194.90 L299.00,195.33 L299.50,195.76 L300.00,196.19 L300.50,196.62 L301.00,197.05 L301.50,197.48 L302.00,197.92 L302.50,198.35 L303.00,198.79 L303.50,199.22 L304.00,199.65 L304.50,200.09 L305.00,200.52 L305.50,200.96 L306.00,201.40 L306.50,201.83 L307.00,202.27 L307.50,202.71 L308.00,203.15 L308.50,203.58 L309.00,204.02 L309.50,204.46 L310.00,204.90 L310.50,205.34 L311.00,205.78 L311.50,206.22 L312.00,206.66 L312.50,207.10 L313.00,207.54 L313.50,207.98 L314.00,208.42 L314.50,208.86 L315.00,209.30 L315.50,209.74 L316.00,210.18 L316.50,210.62 L317.00,211.06 L317.50,211.51 L318.00,211.95 L318.50,212.39 L319.00,212.83 L319.50,213.27 L320.00,213.72 L320.50,214.16 L321.00,214.60 L321.50,215.04 L322.00,215.48 L322.50,215.92 L323.00,216.37 L323.50,216.81 L324.00,217.25 L324.50,217.69 L325.00,218.13 L325.50,218.57 L326.00,219.02 L326.50,219.46 L327.00,219.90 L327.50,220.34 L328.00,220.78 L328.50,221.22 L329.00,221.66 L329.50,222.10 L330.00,222.54 L330.50,222.98 L331.00,223.42 L331.50,223.86 L332.00,224.29 L332.50,224.73 L333.00,225.17 L333.50,225.61 L334.00,226.04 L334.50,226.48 L335.00,226.92 L335.50,227.35 L336.00,227.79 L336.50,228.22 L337.00,228.66 L337.50,229.09 L338.00,229.52 L338.50,229.96 L339.00,230.39 L339.50,230.82 L340.00,231.25 L340.50,231.68 L341.00,232.11 L341.50,232.54 L342.00,232.97 L342.50,233.40 L343.00,233.83 L343.50,234.25 L344.00,234.68 L344.50,235.10 L345.00,235.53 L345.50,235.95 L346.00,236.37 L346.50,236.80 L347.00,237.22 L347.50,237.64 L348.00,238.06 L348.50,238.48 L349.00,238.89 L349.50,239.31 L350.00,239.73 L350.50,240.14 L351.00,240.55 L351.50,240.97 L352.00,241.38 L352.50,241.79 L353.00,242.20 L353.50,242.61 L354.00,243.02 L354.50,243.42 L355.00,243.83 L355.50,244.23 L356.00,244.63 L356.50,245.04 L357.00,245.44 L357.50,245.84 L358.00,246.24 L358.50,246.63 L359.00,247.03 L359.50,247.42 L360.00,247.82 L360.50,248.21 L361.00,248.60 L361.50,248.99 L362.00,249.37 L362.50,249.76 L363.00,250.15 L363.50,250.53 L364.00,250.91 L364.50,251.29 L365.00,251.67 L365.50,252.05 L366.00,252.43" fill="none" stroke="#00ff00" stroke-width="3.3"/>
<path d="M373.00,257.52 L373.50,257.87 L374.00,258.22 L374.50,258.57 L375.00,258.92 L375.50,259.26 L376.00,259.60 L376.50,259.94 L377.00,260.28 L377.50,260.62 L378.00,260.95 L378.50,261.29 L379.00,261.62 L379.50,261.95 L380.00,262.27 L380.50,262.60 L381.00,262.92 L381.50,263.24 L382.00,263.56 L382.50,263.88 L383.00,264.19 L383.50,264.51 L384.00,264.82 L384.50,265.12 L385.00,265.43 L385.50,265.74 L386.00,266.04 L386.50,266.34 L387.00,266.64 L387.50,266.93 L388.00,267.23 L388.50,267.52 L389.00,267.81 L389.50,268.09 L390.00,268.38 L390.50,268.66 L391.00,268.94 L391.50,269.22 L392.00,269.50 L392.50,269.77 L393.00,270.04 L393.50,270.31 L394.00,270.58 L394.50,270.84 L395.00,271.11 L395.50,271.37 L396.00,271.63 L396.50,271.88 L397.00,272.14 L397.50,272.39 L398.00,272.64 L398.50,272.88 L399.00,273.13 L399.50,273.37 L400.00,273.61 L400.50,273.84 L401.00,274.08 L401.50,274.31 L402.00,274.54 L402.50,274.77 L403.00,275.00 L403.50,275.22 L404.00,275.44 L404.50,275.66 L405.00,275.87 L405.50,276.09 L406.00,276.30 L406.50,276.51 L407.00,276.72 L407.50,276.92 L408.00,277.12" fill="none" stroke="#00ff00" stroke-width="3.3"/>
<path d="M410.00,277.91 L410.50,278.10 L411.00,278.29 L411.50,278.47 L412.00,278.66 L412.50,278.84 L413.00,279.02 L413.50,279.19 L414.00,279.37 L414.50,279.54 L415.00,279.71 L415.50,279.88 L416.00,280.04 L416.50,280.20 L417.00,280.37 L417.50,280.52 L418.00,280.68 L418.50,280.83 L419.00,280.99 L419.50,281.14 L420.00,281.28 L420.50,281.43 L421.00,281.57 L421.50,281.71 L422.00,281.85 L422.50,281.99 L423.00,282.12 L423.50,282.26 L424.00,282.39 L424.50,282.52 L425.00,282.64 L425.50,282.77 L426.00,282.89 L426.50,283.01 L427.00,283.13 L427.50,283.24 L428.00,283.36 L428.50,283.47 L429.00,283.58 L429.50,283.69 L430.00,283.80 L430.50,283.90 L431.00,284.00 L431.50,284.10 L432.00,284.20 L432.50,284.30 L433.00,284.39 L433.50,284.49 L434.00,284.58 L434.50,284.67 L435.00,284.76 L435.50,284.84 L436.00,284.93 L436.50,285.01 L437.00,285.09 L437.50,285.17 L438.00,285.25 L438.50,285.33 L439.00,285.40 L439.50,285.48 L440.00,285.55 L440.50,285.62 L441.00,285.69 L441.50,285.75 L442.00,285.82 L442.50,285.88 L443.00,285.95 L443.50,286.01 L444.00,286.07 L444.50,286.13 L445.00,286.18 L445.50,286.24 L446.00,286.29 L446.50,286.35 L447.00,286.40 L447.50,286.45 L448.00,286.50 L448.50,286.55 L449.00,286.59 L449.50,286.64 L450.00,286.68 L450.50,286.73 L451.00,286.77 L451.50,286.81 L452.00,286.85 L452.50,286.89 L453.00,286.93 L453.50,286.96 L454.00,287.00 L454.50,287.03 L455.00,287.07 L455.50,287.10 L456.00,287.13 L456.50,287.16 L457.00,287.20 L457.50,287.22 L458.00,287.25 L458.50,287.28 L459.00,287.31 L459.50,287.33 L460.00,287.36 L460.50,287.38 L461.00,287.41 L461.50,287.43 L462.00,287.45 L462.50,287.47 L463.00,287.49 L463.50,287.51 L464.00,287.53 L464.50,287.55 L465.00,287.57 L465.50,287.59 L466.00,287.60 L466.50,287.62 L467.00,287.64 L467.50,287.65 L468.00,287.67 L468.50,287.68 L469.00,287.69 L469.50,287.71 L470.00,287.72 L470.50,287.73 L471.00,287.74 L471.50,287.76 L472.00,287.77 L472.50,287.78 L473.00,287.79 L473.50,287.80 L474.00,287.81 L474.50,287.82 L475.00,287.82 L475.50,287.83 L476.00,287.84 L476.50,287.85 L477.00,287.86 L477.50,287.86 L478.00,287.87 L478.50,287.88 L479.00,287.88 L479.50,287.89 L480.00,287.89 L480.50,287.90 L481.00,287.90 L481.50,287.91 L482.00,287.91 L482.50,287.92 L483.00,287.92 L483.50,287.93 L484.00,287.93 L484.50,287.93 L485.00,287.94 L485.50,287.94 L486.00,287.94 L486.50,287.95 L487.00,287.95 L487.50,287.95 L488.00,287.96 L488.50,287.96 L489.00,287.96 L489.50,287.96 L490.00,287.97 L490.50,287.97 L491.00,287.97 L491.50,287.97 L492.00,287.97 L492.50,287.97 L493.00,287.98 L493.50,287.98 L494.00,287.98 L494.50,287.98 L495.00,287.98 L495.50,287.98 L496.00,287.98 L496.50,287.98 L497.00,287.99 L497.50,287.99 L498.00,287.99 L498.50,287.99 L499.00,287.99 L499.50,287.99 L500.00,287.99 L500.50,287.99 L501.00,287.99 L501.50,287.99 L502.00,287.99 L502.50,287.99 L503.00,287.99 L503.50,287.99 L504.00,287.99 L504.50,287.99 L505.00,288.00 L505.50,288.00 L506.00,288.00 L506.50,288.00 L507.00,288.00 L507.50,288.00 L508.00,288.00 L508.50,288.00 L509.00,288.00 L509.50,288.00 L510.00,288.00 L510.50,288.00 L511.00,288.00 L511.50,288.00 L512.00,288.00 L512.50,288.00 L513.00,288.00 L513.50,288.00 L514.00,288.00 L514.50,288.00 L515.00,288.00 L515.50,288.00 L516.00,288.00 L516.50,288.00 L517.00,288.00 L517.50,288.00 L518.00,288.00 L518.50,288.00 L519.00,288.00 L519.50,288.00 L520.00,288.00 L520.50,288.00 L521.00,288.00 L521.50,288.00 L522.00,288.00 L522.50,288.00 L523.00,288.00 L523.50,288.00 L524.00,288.00 L524.50,288.00 L525.00,288.00 L525.50,288.00 L526.00,288.00 L526.50,288.00 L527.00,288.00 L527.50,288.00 L528.00,288.00 L528.50,288.00 L529.00,288.00 L529.50,288.00 L530.00,288.00 L530.50,288.00 L531.00,288.00 L531.50,288.00 L532.00,288.00 L532.50,288.00 L533.00,288.00 L533.50,288.00 L534.00,288.00 L534.50,288.00 L535.00,288.00 L535.50,288.00 L536.00,288.00 L536.50,288.00 L537.00,288.00 L537.50,288.00 L538.00,288.00 L538.50,288.00 L539.00,288.00 L539.50,288.00 L540.00,288.00 L540.50,288.00 L541.00,288.00 L541.50,288.00 L542.00,288.00 L542.50,288.00 L543.00,288.00 L543.50,288.00 L544.00,288.00 L544.50,288.00 L545.00,288.00 L545.50,288.00 L546.00,288.00 L546.50,288.00 L547.00,288.00 L547.50,288.00 L548.00,288.00 L548.50,288.00 L549.00,288.00 L549.50,288.00 L550.00,288.00 L550.50,288.00 L551.00,288.00 L551.50,288.00 L552.00,288.00 L552.50,288.00 L553.00,288.00 L553.50,288.00 L554.00,288.00 L554.50,288.00 L555.00,288.00 L555.50,288.00 L556.00,288.00 L556.50,288.00 L557.00,288.00 L557.50,288.00 L558.00,288.00 L558.50,288.00 L559.00,288.00 L559.50,288.00 L560.00,288.00 L560.50,288.00 L561.00,288.00 L561.50,288.00 L562.00,288.00 L562.50,288.00 L563.00,288.00 L563.50,288.00 L564.00,288.00 L564.50,288.00 L565.00,288.00 L565.50,288.00 L566.00,288.00 L566.50,288.00 L567.00,288.00 L567.50,288.00 L568.00,288.00 L568.50,288.00 L569.00,288.00 L569.50,288.00 L570.00,288.00 L570.50,288.00 L571.00,288.00 L571.50,288.00 L572.00,288.00 L572.50,288.00 L573.00,288.00 L573.50,288.00 L574.00,288.00 L574.50,288.00 L575.00,288.00 L575.50,288.00 L576.00,288.00 L576.50,288.00 L577.00,288.00 L577.50,288.00 L578.00,288.00 L578.50,288.00 L579.00,288.00 L579.50,288.00 L580.00,288.00 L580.50,288.00 L581.00,288.00 L581.50,288.00 L582.00,288.00 L582.50,288.00 L583.00,288.00 L583.50,288.00 L584.00,288.00 L584.50,288.00 L585.00,288.00 L585.50,288.00 L586.00,288.00 L586.50,288.00 L587.00,288.00 L587.50,288.00 L588.00,288.00 L588.50,288.00 L589.00,288.00 L589.50,288.00 L590.00,288.00 L590.50,288.00 L591.00,288.00 L591.50,288.00 L592.00,288.00 L592.50,288.00 L593.00,288.00 L593.50,288.00 L594.00,288.00 L594.50,288.00 L595.00,288.00 L595.50,288.00 L596.00,288.00 L596.50,288.00 L597.00,288.00 L597.50,288.00 L598.00,288.00 L598.50,288.00 L599.00,288.00 L599.50,288.00 L600.00,288.00 L600.50,288.00 L601.00,288.00 L601.50,288.00 L602.00,288.00 L602.50,288.00 L603.00,288.00 L603.50,288.00 L604.00,288.00 L604.50,288.00 L605.00,288.00 L605.50,288.00 L606.00,288.00 L606.50,288.00 L607.00,288.00 L607.50,288.00 L608.00,288.00 L608.50,288.00 L609.00,288.00 L609.50,288.00 L610.00,288.00 L610.50,288.00 L611.00,288.00 L611.50,288.00 L612.00,288.00 L612.50,288.00 L613.00,288.00 L613.50,288.00 L614.00,288.00 L614.50,288.00 L615.00,288.00 L615.50,288.00 L616.00,288.00 L616.50,288.00 L617.00,288.00 L617.50,288.00 L618.00,288.00 L618.50,288.00 L619.00,288.00 L619.50,288.00 L620.00,288.00 L620.50,288.00 L621.00,288.00 L621.50,288.00 L622.00,288.00 L622.50,288.00 L623.00,288.00 L623.50,288.00 L624.00,288.00 L624.50,288.00 L625.00,288.00 L625.50,288.00 L626.00,288.00 L626.50,288.00 L627.00,288.00 L627.50,288.00 L628.00,288.00 L628.50,288.00 L629.00,288.00 L629.50,288.00 L630.00,288.00 L630.50,288.00 L631.00,288.00 L631.50,288.00 L632.00,288.00 L632.50,288.00 L633.00,288.00 L633.50,288.00 L634.00,288.00 L634.50,288.00 L635.00,288.00 L635.50,288.00 L636.00,288.00 L636.50,288.00 L637.00,288.00 L637.50,288.00 L638.00,288.00 L638.50,288.00 L639.00,288.00 L639.50,288.00 L640.00,288.00 L640.50,288.00 L641.00,288.00 L641.50,288.00 L642.00,288.00 L642.50,288.00 L643.00,288.00 L643.50,288.00 L644.00,288.00 L644.50,288.00 L645.00,288.00 L645.50,288.00 L646.00,288.00 L646.50,288.00 L647.00,288.00 L647.50,288.00 L648.00,288.00 L648.50,288.00 L649.00,288.00 L649.50,288.00 L650.00,288.00 L650.50,288.00 L651.00,288.00 L651.50,288.00 L652.00,288.00 L652.50,288.00 L653.00,288.00 L653.50,288.00 L654.00,288.00 L654.50,288.00 L655.00,288.00 L655.50,288.00 L656.00,288.00 L656.50,288.00 L657.00,288.00 L657.50,288.00 L658.00,288.00 L658.50,288.00 L659.00,288.00 L659.50,288.00 L660.00,288.00 L660.50,288.00 L661.00,288.00 L661.50,288.00 L662.00,288.00 L662.50,288.00 L663.00,288.00 L663.50,288.00 L664.00,288.00 L664.50,288.00 L665.00,288.00 L665.50,288.00 L666.00,288.00 L666.50,288.00 L667.00,288.00 L667.50,288.00 L668.00,288.00 L668.50,288.00 L669.00,288.00 L669.50,288.00 L670.00,288.00 L670.50,288.00 L671.00,288.00 L671.50,288.00 L672.00,288.00 L672.50,288.00 L673.00,288.00 L673.50,288.00 L674.00,288.00 L674.50,288.00 L675.00,288.00 L675.50,288.00 L676.00,288.00 L676.50,288.00 L677.00,288.00 L677.50,288.00 L678.00,288.00 L678.50,288.00 L679.00,288.00 L679.50,288.00 L680.00,288.00 L680.50,288.00 L681.00,288.00 L681.50,288.00 L682.00,288.00 L682.50,288.00 L683.00,288.00 L683.50,288.00 L684.00,288.00 L684.50,288.00 L685.00,288.00 L685.50,288.00 L686.00,288.00 L686.50,288.00 L687.00,288.00 L687.50,288.00 L688.00,288.00 L688.50,288.00 L689.00,288.00 L689.50,288.00 L690.00,288.00 L690.50,288.00 L691.00,288.00 L691.50,288.00 L692.00,288.00 L692.50,288.00 L693.00,288.00 L693.50,288.00 L694.00,288.00 L694.50,288.00 L695.00,288.00 L695.50,288.00 L696.00,288.00 L696.50,288.00 L697.00,288.00 L697.50,288.00 L698.00,288.00 L698.50,288.00 L699.00,288.00 L699.50,288.00 L700.00,288.00 L700.50,288.00 L701.00,288.00 L701.50,288.00 L702.00,288.00 L702.50,288.00 L703.00,288.00 L703.50,288.00 L704.00,288.00 L704.50,288.00 L705.00,288.00 L705.50,288.00 L706.00,288.00 L706.50,288.00 L707.00,288.00 L707.50,288.00 L708.00,288.00 L708.50,288.00 L709.00,288.00 L709.50,288.00 L710.00,288.00 L710.50,288.00 L711.00,288.00 L711.50,288.00 L712.00,288.00 L712.50,288.00 L713.00,288.00 L713.50,288.00 L714.00,288.00 L714.50,288.00 L715.00,288.00 L715.50,288.00 L716.00,288.00 L716.50,288.00 L717.00,288.00 L717.50,288.00 L718.00,288.00 L718.50,288.00 L719.00,288.00 L719.50,288.00 L720.00,288.00 L720.50,288.00 L721.00,288.00 L721.50,288.00 L722.00,288.00 L722.50,288.00 L723.00,288.00 L723.50,288.00 L724.00,288.00 L724.50,288.00 L725.00,288.00 L725.50,288.00 L726.00,288.00 L726.50,288.00 L727.00,288.00 L727.50,288.00 L728.00,288.00 L728.50,288.00 L729.00,288.00 L729.50,288.00 L730.00,288.00 L730.50,288.00 L731.00,288.00 L731.50,288.00 L732.00,288.00 L732.50,288.00 L733.00,288.00 L733.50,288.00 L734.00,288.00 L734.50,288.00 L735.00,288.00 L735.50,288.00 L736.00,288.00 L736.50,288.00 L737.00,288.00 L737.50,288.00 L738.00,288.00 L738.50,288.00 L739.00,288.00 L739.50,288.00 L740.00,288.00 L740.50,288.00 L741.00,288.00 L741.50,288.00 L742.00,288.00 L742.50,288.00 L743.00,288.00 L743.50,288.00 L744.00,288.00 L744.50,288.00 L745.00,288.00 L745.50,288.00 L746.00,288.00 L746.50,288.00 L747.00,288.00 L747.50,288.00 L748.00,288.00 L748.50,288.00 L749.00,288.00 L749.50,288.00 L750.00,288.00 L750.50,288.00 L751.00,288.00 L751.50,288.00 L752.00,288.00 L752.50,288.00 L753.00,288.00 L753.50,288.00 L754.00,288.00 L754.50,288.00 L755.00,288.00 L755.50,288.00 L756.00,288.00 L756.50,288.00 L757.00,288.00 L757.50,288.00 L758.00,288.00 L758.50,288.00 L759.00,288.00 L759.50,288.00 L760.00,288.00 L760.50,288.00 L761.00,288.00 L761.50,288.00 L762.00,288.00 L762.50,288.00 L763.00,288.00 L763.50,288.00 L764.00,288.00 L764.50,288.00 L765.00,288.00 L765.50,288.00 L766.00,288.00 L766.50,288.00 L767.00,288.00 L767.50,288.00 L768.00,288.00 L768.50,288.00 L769.00,288.00 L769.50,288.00 L770.00,288.00 L770.50,288.00 L771.00,288.00 L771.50,288.00 L772.00,288.00 L772.50,288.00 L773.00,288.00 L773.50,288.00 L774.00,288.00 L774.50,288.00 L775.00,288.00 L775.50,288.00 L776.00,288.00 L776.50,288.00 L777.00,288.00 L777.50,288.00" fill="none" stroke="#00ff00" stroke-width="3.3"/>
<path d="M44.50,76.99 L46.00,77.25 L47.50,77.50 L49.00,77.75 L50.50,78.01 L52.00,78.26 L53.50,78.53 L55.00,78.79 L56.50,79.06 L58.00,79.33 L59.50,79.61 L61.00,79.89 L62.50,80.17 L64.00,80.45 L65.50,80.74 L67.00,81.04 L68.50,81.33 L70.00,81.63 L71.50,81.93 L73.00,82.24 L74.50,82.55 L76.00,82.86 L77.50,83.18 L79.00,83.50 L80.50,83.82 L82.00,84.15 L83.50,84.48 L85.00,84.82 L86.50,85.16 L88.00,85.50 L89.50,85.85 L91.00,86.20 L92.50,86.55 L94.00,86.91 L95.50,87.28 L97.00,87.65 L98.50,88.02 L100.00,88.39 L101.50,88.78 L103.00,89.16 L104.50,89.55 L106.00,89.94 L107.50,90.34 L109.00,90.75 L110.50,91.15 L112.00,91.57 L113.50,91.98 L115.00,92.40 L116.50,92.83 L118.00,93.26 L119.50,93.70 L121.00,94.14 L122.50,94.59 L124.00,95.04 L125.50,95.50 L127.00,95.96 L128.50,96.42 L130.00,96.90 L131.50,97.37 L133.00,97.86 L134.50,98.35 L136.00,98.84 L137.50,99.33 L139.00,99.83 L140.50,100.34 L142.00,100.86 L143.50,101.38 L145.00,101.93 L146.50,102.48 L148.00,103.03 L149.50,103.59 L151.00,104.16 L152.50,104.73 L154.00,105.30 L155.50,105.88 L157.00,106.47 L158.50,107.05 L160.00,107.65 L161.50,108.24 L163.00,108.84 L164.50,109.45 L166.00,110.05 L167.50,110.67 L169.00,111.28 L170.50,111.90 L172.00,112.52 L173.50,113.15 L175.00,113.78 L176.50,114.41 L178.00,115.05 L179.50,115.69 L181.00,116.33 L182.50,116.97 L184.00,117.62 L185.50,118.27 L187.00,118.92 L188.50,119.57 L190.00,120.23 L191.50,120.89 L193.00,121.55 L194.50,122.21 L196.00,122.88 L197.50,123.56 L199.00,124.24 L200.50,124.93 L202.00,125.63 L203.50,126.34 L205.00,127.06 L206.50,127.78 L208.00,128.51 L209.50,129.25 L211.00,130.00 L212.50,130.76 L214.00,131.53 L215.50,132.32 L217.00,133.10 L218.50,133.88 L220.00,134.66 L221.50,135.44 L223.00,136.20 L224.50,136.96 L226.00,137.70 L227.50,138.44 L229.00,139.18 L230.50,139.92 L232.00,140.67 L233.50,141.42 L235.00,142.18 L236.50,142.96 L238.00,143.74 L239.50,144.53 L241.00,145.33 L242.50,146.14 L244.00,146.95 L245.50,147.77 L247.00,148.60 L248.50,149.44 L250.00,150.28 L251.50,151.16 L253.00,152.05 L254.50,152.95 L256.00,153.86 L257.50,154.77 L259.00,155.66 L260.50,156.54 L262.00,157.39 L263.50,158.21 L265.00,159.01 L266.50,159.80 L268.00,160.57 L269.50,161.34 L271.00,162.10 L272.50,162.86 L274.00,163.62 L275.50,164.39 L277.00,165.17 L278.50,165.94 L280.00,166.72 L281.50,167.50 L283.00,168.27 L284.50,169.05 L286.00,169.83 L287.50,170.61 L289.00,171.39 L290.50,172.18 L292.00,172.99 L293.50,173.80 L295.00,174.62 L296.50,175.44 L298.00,176.24 L299.50,177.02 L301.00,177.78 L302.50,178.51 L304.00,179.20 L305.50,179.87 L307.00,180.53 L308.50,181.17 L310.00,181.79 L311.50,182.40 L313.00,183.00 L314.50,183.59 L316.00,184.17 L317.50,184.76 L319.00,185.35 L320.50,185.93 L322.00,186.52 L323.50,187.11 L325.00,187.68 L326.50,188.25 L328.00,188.81 L329.50,189.36 L331.00,189.89 L332.50,190.41 L334.00,190.90 L335.50,191.38 L337.00,191.83 L338.50,192.25 L340.00,192.65 L341.50,193.02 L343.00,193.38 L344.50,193.73 L346.00,194.06 L347.50,194.39 L349.00,194.71 L350.50,195.02 L352.00,195.31 L353.50,195.60 L355.00,195.88 L356.50,196.15 L358.00,196.40 L359.50,196.65 L361.00,196.89 L362.50,197.11 L364.00,197.33 L365.50,197.53 L367.00,197.73 L368.50,197.92 L370.00,198.09 L371.50,198.26 L373.00,198.42 L374.50,198.58 L376.00,198.73 L377.50,198.88 L379.00,199.02 L380.50,199.16 L382.00,199.29 L383.50,199.43 L385.00,199.56 L386.50,199.70 L388.00,199.83 L389.50,199.97 L391.00,200.11 L392.50,200.25 L394.00,200.40 L395.50,200.55 L397.00,200.71 L398.50,200.86 L400.00,201.02 L401.50,201.18 L403.00,201.33 L404.50,201.48 L406.00,201.63 L407.50,201.77 L409.00,201.90 L410.50,202.03 L412.00,202.15 L413.50,202.26 L415.00,202.38 L416.50,202.49 L418.00,202.59 L419.50,202.70 L421.00,202.81 L422.50,202.92 L424.00,203.03 L425.50,203.15 L427.00,203.26 L428.50,203.38 L430.00,203.50 L431.50,203.61 L433.00,203.73 L434.50,203.85 L436.00,203.97 L437.50,204.09 L439.00,204.21 L440.50,204.33 L442.00,204.45 L443.50,204.57 L445.00,204.69 L446.50,204.81 L448.00,204.93 L449.50,205.05 L451.00,205.18 L452.50,205.30 L454.00,205.43 L455.50,205.55 L457.00,205.67 L458.50,205.80 L460.00,205.93 L461.50,206.05 L463.00,206.18 L464.50,206.31 L466.00,206.43 L467.50,206.56 L469.00,206.69 L470.50,206.82 L472.00,206.95 L473.50,207.08 L475.00,207.21 L476.50,207.34 L478.00,207.47 L479.50,207.61 L481.00,207.74 L482.50,207.87 L484.00,208.00 L485.50,208.14 L487.00,208.27 L488.50,208.41 L490.00,208.54 L491.50,208.68 L493.00,208.81 L494.50,208.95 L496.00,209.09 L497.50,209.22 L499.00,209.36 L500.50,209.50 L502.00,209.64 L503.50,209.78 L505.00,209.92 L506.50,210.06 L508.00,210.20 L509.50,210.34 L511.00,210.48 L512.50,210.63 L514.00,210.77 L515.50,210.91 L517.00,211.05 L518.50,211.20 L520.00,211.34 L521.50,211.49 L523.00,211.63 L524.50,211.78 L526.00,211.93 L527.50,212.07 L529.00,212.22 L530.50,212.37 L532.00,212.52 L533.50,212.66 L535.00,212.81 L536.50,212.96 L538.00,213.11 L539.50,213.26 L541.00,213.41 L542.50,213.57 L544.00,213.72 L545.50,213.87 L547.00,214.02 L548.50,214.18 L550.00,214.33 L551.50,214.48 L553.00,214.64 L554.50,214.79 L556.00,214.95 L557.50,215.10 L559.00,215.26 L560.50,215.42 L562.00,215.58 L563.50,215.73 L565.00,215.89 L566.50,216.05 L568.00,216.21 L569.50,216.37 L571.00,216.53 L572.50,216.69 L574.00,216.85 L575.50,217.01 L577.00,217.18 L578.50,217.34 L580.00,217.50 L581.50,217.66 L583.00,217.83 L584.50,217.99 L586.00,218.16 L587.50,218.32 L589.00,218.49 L590.50,218.65 L592.00,218.82 L593.50,218.99 L595.00,219.16 L596.50,219.32 L598.00,219.49 L599.50,219.66 L601.00,219.83 L602.50,220.00 L604.00,220.17 L605.50,220.34 L607.00,220.51 L608.50,220.69 L610.00,220.86 L611.50,221.03 L613.00,221.20 L614.50,221.38 L616.00,221.55 L617.50,221.73 L619.00,221.90 L620.50,222.08 L622.00,222.25 L623.50,222.43 L625.00,222.61 L626.50,222.78 L628.00,222.96 L629.50,223.14 L631.00,223.32 L632.50,223.50 L634.00,223.68 L635.50,223.86 L637.00,224.04 L638.50,224.22 L640.00,224.40 L641.50,224.58 L643.00,224.76 L644.50,224.95 L646.00,225.13 L647.50,225.31 L649.00,225.50 L650.50,225.68 L652.00,225.87 L653.50,226.05 L655.00,226.24 L656.50,226.43 L658.00,226.61 L659.50,226.80 L661.00,226.99 L662.50,227.18 L664.00,227.37 L665.50,227.56 L667.00,227.75 L668.50,227.94 L670.00,228.13 L671.50,228.32 L673.00,228.51 L674.50,228.70 L676.00,228.89 L677.50,229.09 L679.00,229.28 L680.50,229.47 L682.00,229.67 L683.50,229.86 L685.00,230.06 L686.50,230.26 L688.00,230.45 L689.50,230.65 L691.00,230.85 L692.50,231.04 L694.00,231.24 L695.50,231.44 L697.00,231.64 L698.50,231.84 L700.00,232.04 L701.50,232.24 L703.00,232.44 L704.50,232.64 L706.00,232.84 L707.50,233.05 L709.00,233.25 L710.50,233.45 L712.00,233.66 L713.50,233.86 L715.00,234.06 L716.50,234.27 L718.00,234.48 L719.50,234.68 L721.00,234.89 L722.50,235.09 L724.00,235.30 L725.50,235.51 L727.00,235.72 L728.50,235.93 L730.00,236.14 L731.50,236.35 L733.00,236.56 L734.50,236.77 L736.00,236.98 L737.50,237.19 L739.00,237.40 L740.50,237.61 L742.00,237.83 L743.50,238.04 L745.00,238.25 L746.50,238.47 L748.00,238.68 L749.50,238.90 L751.00,239.12 L752.50,239.33 L754.00,239.55 L755.50,239.77 L757.00,239.98 L758.50,240.20 L760.00,240.42 L761.50,240.64 L763.00,240.86 L764.50,241.08 L766.00,241.30 L767.50,241.52 L769.00,241.74 L770.50,241.96 L772.00,242.19 L773.50,242.41 L775.00,242.63 L776.50,242.86" fill="none" stroke="#00ff00" stroke-width="2.5" stroke-dasharray="10.2 5" stroke-dashoffset="15.0"/>
</g>
<g><rect x="31.83" y="284.2" width="0.5" height="2.4" fill="#aaa"/>
<rect x="39.31" y="284.2" width="0.5" height="2.4" fill="#aaa"/>
<rect x="46.00" y="284.2" width="0.5" height="2.4" fill="#aaa"/>
<rect x="90.03" y="284.2" width="0.5" height="2.4" fill="#aaa"/>
<rect x="115.78" y="284.2" width="0.5" height="2.4" fill="#aaa"/>
<rect x="134.05" y="284.2" width="0.5" height="2.4" fill="#aaa"/>
<rect x="148.22" y="284.2" width="0.5" height="2.4" fill="#aaa"/>
<rect x="159.80" y="284.2" width="0.5" height="2.4" fill="#aaa"/>
<rect x="169.60" y="284.2" width="0.5" height="2.4" fill="#aaa"/>
<rect x="178.08" y="284.2" width="0.5" height="2.4" fill="#aaa"/>
<rect x="185.56" y="284.2" width="0.5" height="2.4" fill="#aaa"/>
<rect x="192.20" y="280.4" width="0.6" height="6.2" fill="#999"/>
<rect x="236.28" y="284.2" width="0.5" height="2.4" fill="#aaa"/>
<rect x="262.03" y="284.2" width="0.5" height="2.4" fill="#aaa"/>
<rect x="280.30" y="284.2" width="0.5" height="2.4" fill="#aaa"/>
<rect x="294.47" y="284.2" width="0.5" height="2.4" fill="#aaa"/>
<rect x="306.05" y="284.2" width="0.5" height="2.4" fill="#aaa"/>
<rect x="315.85" y="284.2" width="0.5" height="2.4" fill="#aaa"/>
<rect x="324.33" y="284.2" width="0.5" height="2.4" fill="#aaa"/>
<rect x="331.81" y="284.2" width="0.5" height="2.4" fill="#aaa"/>
<rect x="338.45" y="280.4" width="0.6" height="6.2" fill="#999"/>
<rect x="382.53" y="284.2" width="0.5" height="2.4" fill="#aaa"/>
<rect x="408.28" y="284.2" width="0.5" height="2.4" fill="#aaa"/>
<rect x="426.55" y="284.2" width="0.5" height="2.4" fill="#aaa"/>
<rect x="440.72" y="284.2" width="0.5" height="2.4" fill="#aaa"/>
<rect x="452.30" y="284.2" width="0.5" height="2.4" fill="#aaa"/>
<rect x="462.10" y="284.2" width="0.5" height="2.4" fill="#aaa"/>
<rect x="470.58" y="284.2" width="0.5" height="2.4" fill="#aaa"/>
<rect x="478.06" y="284.2" width="0.5" height="2.4" fill="#aaa"/>
<rect x="484.70" y="280.4" width="0.6" height="6.2" fill="#999"/>
<rect x="528.78" y="284.2" width="0.5" height="2.4" fill="#aaa"/>
<rect x="554.53" y="284.2" width="0.5" height="2.4" fill="#aaa"/>
<rect x="572.80" y="284.2" width="0.5" height="2.4" fill="#aaa"/>
<rect x="586.97" y="284.2" width="0.5" height="2.4" fill="#aaa"/>
<rect x="598.55" y="284.2" width="0.5" height="2.4" fill="#aaa"/>
<rect x="608.35" y="284.2" width="0.5" height="2.4" fill="#aaa"/>
<rect x="616.83" y="284.2" width="0.5" height="2.4" fill="#aaa"/>
<rect x="624.31" y="284.2" width="0.5" height="2.4" fill="#aaa"/>
<rect x="630.95" y="280.4" width="0.6" height="6.2" fill="#999"/>
<rect x="675.03" y="284.2" width="0.5" height="2.4" fill="#aaa"/>
<rect x="700.78" y="284.2" width="0.5" height="2.4" fill="#aaa"/>
<rect x="719.05" y="284.2" width="0.5" height="2.4" fill="#aaa"/>
<rect x="733.22" y="284.2" width="0.5" height="2.4" fill="#aaa"/>
<rect x="744.80" y="284.2" width="0.5" height="2.4" fill="#aaa"/>
<rect x="754.60" y="284.2" width="0.5" height="2.4" fill="#aaa"/>
<rect x="763.08" y="284.2" width="0.5" height="2.4" fill="#aaa"/>
<rect x="770.56" y="284.2" width="0.5" height="2.4" fill="#aaa"/>
<rect x="777.20" y="280.4" width="0.6" height="6.2" fill="#999"/>
<rect x="47.7" y="278.07" width="1.7" height="1.3" fill="#666"/>
<rect x="47.7" y="268.79" width="1.7" height="1.3" fill="#666"/>
<rect x="47.7" y="259.51" width="1.7" height="1.3" fill="#666"/>
<rect x="47.7" y="250.23" width="1.7" height="1.3" fill="#666"/>
<rect x="47.7" y="240.80" width="3.6" height="1.6" fill="#505050"/>
<rect x="47.7" y="231.67" width="1.7" height="1.3" fill="#666"/>
<rect x="47.7" y="222.39" width="1.7" height="1.3" fill="#666"/>
<rect x="47.7" y="213.11" width="1.7" height="1.3" fill="#666"/>
<rect x="47.7" y="203.83" width="1.7" height="1.3" fill="#666"/>
<rect x="47.7" y="194.40" width="3.6" height="1.6" fill="#505050"/>
<rect x="47.7" y="185.27" width="1.7" height="1.3" fill="#666"/>
<rect x="47.7" y="175.99" width="1.7" height="1.3" fill="#666"/>
<rect x="47.7" y="166.71" width="1.7" height="1.3" fill="#666"/>
<rect x="47.7" y="157.43" width="1.7" height="1.3" fill="#666"/>
<rect x="47.7" y="148.00" width="3.6" height="1.6" fill="#505050"/>
<rect x="47.7" y="138.87" width="1.7" height="1.3" fill="#666"/>
<rect x="47.7" y="129.59" width="1.7" height="1.3" fill="#666"/>
<rect x="47.7" y="120.31" width="1.7" height="1.3" fill="#666"/>
<rect x="47.7" y="111.03" width="1.7" height="1.3" fill="#666"/>
<rect x="47.7" y="101.60" width="3.6" height="1.6" fill="#505050"/>
<rect x="47.7" y="92.47" width="1.7" height="1.3" fill="#666"/>
<rect x="47.7" y="83.19" width="1.7" height="1.3" fill="#666"/>
<rect x="47.7" y="73.91" width="1.7" height="1.3" fill="#666"/>
<rect x="47.7" y="64.63" width="1.7" height="1.3" fill="#666"/>
<rect x="47.7" y="55.20" width="3.6" height="1.6" fill="#505050"/>
<rect x="47.7" y="46.07" width="1.7" height="1.3" fill="#666"/>
<rect x="47.7" y="296.63" width="1.7" height="1.3" fill="#666"/></g>
<g><rect x="31.3" y="286.5" width="760.9" height="3.2" fill="#000"/>
<rect x="45.1" y="45.7" width="2.8" height="254.7" fill="#000"/>
<rect x="47.8" y="287.3" width="3.4" height="1.5" fill="#777"/></g>
<g fill="#000" ><text x="41.6" y="252.40" text-anchor="end" font-size="33.5">0.1</text>
<text x="41.6" y="206.00" text-anchor="end" font-size="33.5">0.2</text>
<text x="41.6" y="159.60" text-anchor="end" font-size="33.5">0.3</text>
<text x="41.6" y="113.20" text-anchor="end" font-size="33.5">0.4</text>
<text x="41.6" y="66.80" text-anchor="end" font-size="33.5">0.5</text>
<text x="169.70" y="323.2" font-size="34.5">10<tspan dy="-12" dx="-1.6" font-size="24">4</tspan></text>
<text x="315.95" y="323.2" font-size="34.5">10<tspan dy="-12" dx="-1.6" font-size="24">5</tspan></text>
<text x="462.20" y="323.2" font-size="34.5">10<tspan dy="-12" dx="-1.6" font-size="24">6</tspan></text>
<text x="608.45" y="323.2" font-size="34.5">10<tspan dy="-12" dx="-1.6" font-size="24">7</tspan></text>
<text x="754.70" y="323.2" font-size="34.5">10<tspan dy="-12" dx="-1.6" font-size="24">8</tspan></text>
<text x="30.5" y="30.75" font-size="33" font-style="italic">P<tspan dy="4" dx="-0.5" font-size="23">e</tspan></text>
<text x="803.5" y="300" font-size="34" font-style="italic">N</text></g>
</svg>
</body></html>
